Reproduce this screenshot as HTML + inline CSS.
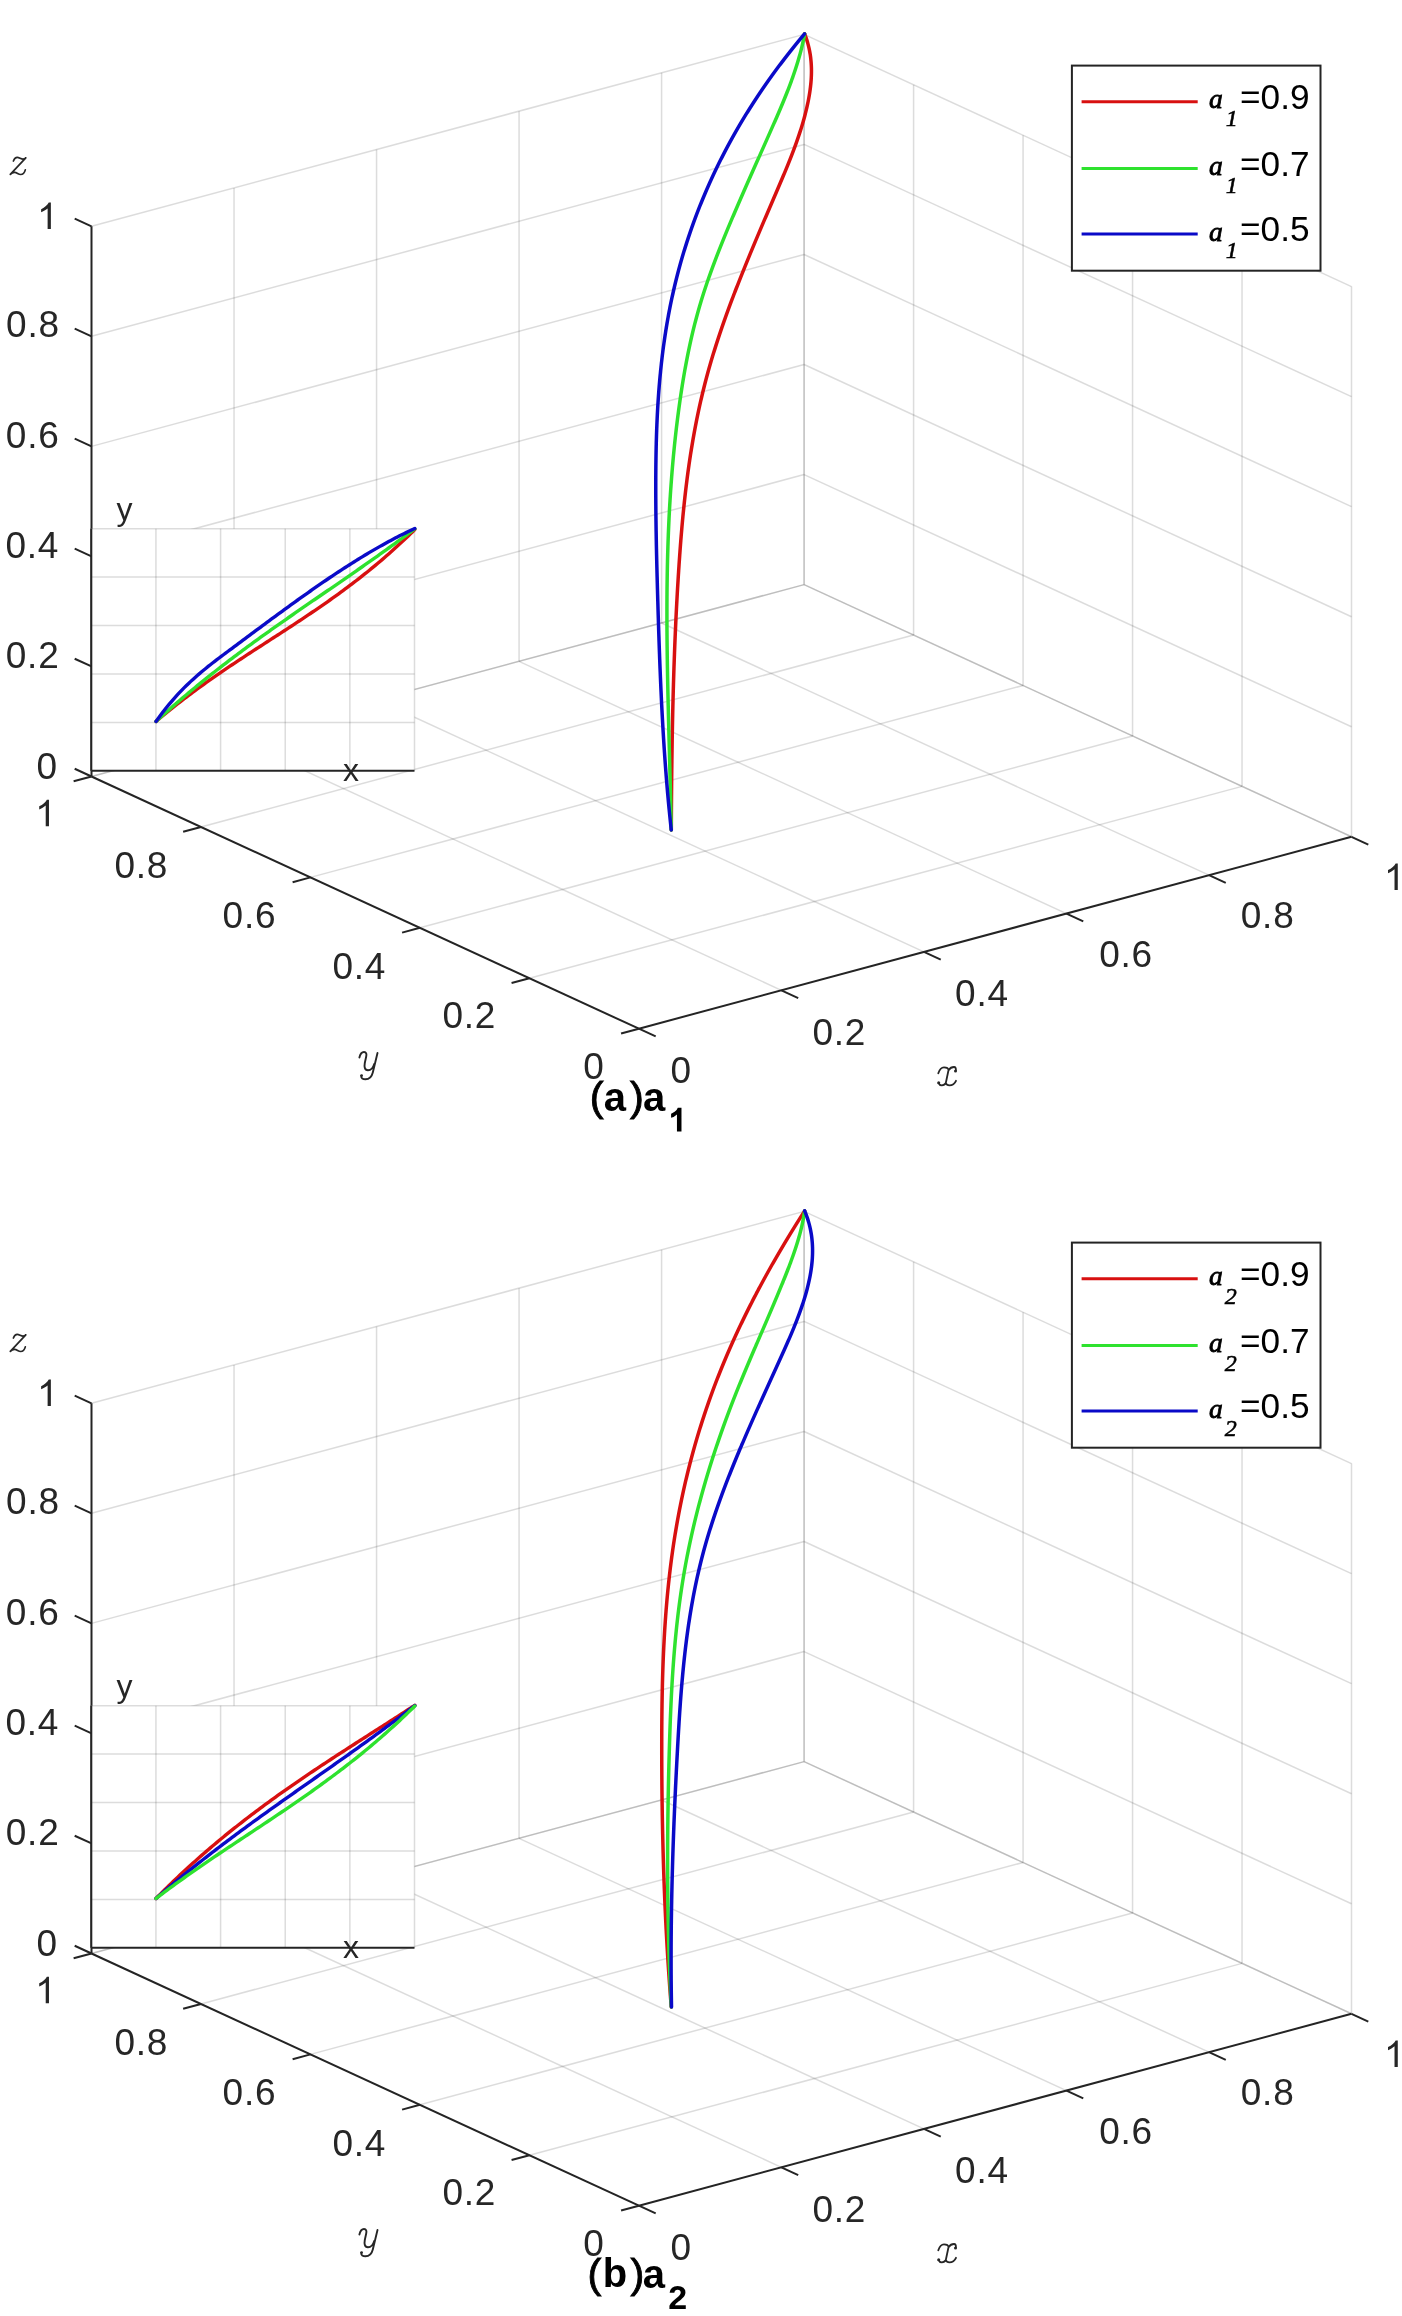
<!DOCTYPE html>
<html><head><meta charset="utf-8"><title>3D curves</title>
<style>html,body{margin:0;padding:0;background:#fff;}svg{display:block;will-change:transform;}</style>
</head><body>
<svg width="1402" height="2316" viewBox="0 0 1402 2316">
<rect width="1402" height="2316" fill="#fff"/>
<g><line x1="781.42" y1="990.32" x2="234.02" y2="738.12" stroke="#262626" stroke-width="1.5" stroke-opacity="0.16"/><line x1="923.94" y1="951.94" x2="376.54" y2="699.74" stroke="#262626" stroke-width="1.5" stroke-opacity="0.16"/><line x1="1066.46" y1="913.56" x2="519.06" y2="661.36" stroke="#262626" stroke-width="1.5" stroke-opacity="0.16"/><line x1="1208.98" y1="875.18" x2="661.58" y2="622.98" stroke="#262626" stroke-width="1.5" stroke-opacity="0.16"/><line x1="1351.5" y1="836.8" x2="804.1" y2="584.6" stroke="#262626" stroke-width="1.5" stroke-opacity="0.16"/><line x1="529.42" y1="978.26" x2="1242.02" y2="786.36" stroke="#262626" stroke-width="1.5" stroke-opacity="0.16"/><line x1="419.94" y1="927.82" x2="1132.54" y2="735.92" stroke="#262626" stroke-width="1.5" stroke-opacity="0.16"/><line x1="310.46" y1="877.38" x2="1023.06" y2="685.48" stroke="#262626" stroke-width="1.5" stroke-opacity="0.16"/><line x1="200.98" y1="826.94" x2="913.58" y2="635.04" stroke="#262626" stroke-width="1.5" stroke-opacity="0.16"/><line x1="91.5" y1="776.5" x2="804.1" y2="584.6" stroke="#262626" stroke-width="1.5" stroke-opacity="0.16"/><line x1="234.02" y1="738.12" x2="234.02" y2="187.92" stroke="#262626" stroke-width="1.5" stroke-opacity="0.16"/><line x1="376.54" y1="699.74" x2="376.54" y2="149.54" stroke="#262626" stroke-width="1.5" stroke-opacity="0.16"/><line x1="519.06" y1="661.36" x2="519.06" y2="111.16" stroke="#262626" stroke-width="1.5" stroke-opacity="0.16"/><line x1="661.58" y1="622.98" x2="661.58" y2="72.78" stroke="#262626" stroke-width="1.5" stroke-opacity="0.16"/><line x1="804.1" y1="584.6" x2="804.1" y2="34.4" stroke="#262626" stroke-width="1.5" stroke-opacity="0.16"/><line x1="91.5" y1="776.5" x2="804.1" y2="584.6" stroke="#262626" stroke-width="1.5" stroke-opacity="0.16"/><line x1="91.5" y1="666.46" x2="804.1" y2="474.56" stroke="#262626" stroke-width="1.5" stroke-opacity="0.16"/><line x1="91.5" y1="556.42" x2="804.1" y2="364.52" stroke="#262626" stroke-width="1.5" stroke-opacity="0.16"/><line x1="91.5" y1="446.38" x2="804.1" y2="254.48" stroke="#262626" stroke-width="1.5" stroke-opacity="0.16"/><line x1="91.5" y1="336.34" x2="804.1" y2="144.44" stroke="#262626" stroke-width="1.5" stroke-opacity="0.16"/><line x1="91.5" y1="226.3" x2="804.1" y2="34.4" stroke="#262626" stroke-width="1.5" stroke-opacity="0.16"/><line x1="1351.5" y1="836.8" x2="1351.5" y2="286.6" stroke="#262626" stroke-width="1.5" stroke-opacity="0.16"/><line x1="1242.02" y1="786.36" x2="1242.02" y2="236.16" stroke="#262626" stroke-width="1.5" stroke-opacity="0.16"/><line x1="1132.54" y1="735.92" x2="1132.54" y2="185.72" stroke="#262626" stroke-width="1.5" stroke-opacity="0.16"/><line x1="1023.06" y1="685.48" x2="1023.06" y2="135.28" stroke="#262626" stroke-width="1.5" stroke-opacity="0.16"/><line x1="913.58" y1="635.04" x2="913.58" y2="84.84" stroke="#262626" stroke-width="1.5" stroke-opacity="0.16"/><line x1="804.1" y1="584.6" x2="804.1" y2="34.4" stroke="#262626" stroke-width="1.5" stroke-opacity="0.16"/><line x1="1351.5" y1="836.8" x2="804.1" y2="584.6" stroke="#262626" stroke-width="1.5" stroke-opacity="0.16"/><line x1="1351.5" y1="726.76" x2="804.1" y2="474.56" stroke="#262626" stroke-width="1.5" stroke-opacity="0.16"/><line x1="1351.5" y1="616.72" x2="804.1" y2="364.52" stroke="#262626" stroke-width="1.5" stroke-opacity="0.16"/><line x1="1351.5" y1="506.68" x2="804.1" y2="254.48" stroke="#262626" stroke-width="1.5" stroke-opacity="0.16"/><line x1="1351.5" y1="396.64" x2="804.1" y2="144.44" stroke="#262626" stroke-width="1.5" stroke-opacity="0.16"/><line x1="1351.5" y1="286.6" x2="804.1" y2="34.4" stroke="#262626" stroke-width="1.5" stroke-opacity="0.16"/></g>
<g stroke-linecap="butt"><line x1="638.9" y1="1028.7" x2="1351.5" y2="836.8" stroke="#242424" stroke-width="2.0"/><line x1="638.9" y1="1028.7" x2="91.5" y2="776.5" stroke="#242424" stroke-width="2.0"/><line x1="91.5" y1="776.5" x2="91.5" y2="226.3" stroke="#242424" stroke-width="2.0"/><line x1="638.9" y1="1028.7" x2="655.7" y2="1036.44" stroke="#242424" stroke-width="2.0"/><line x1="638.9" y1="1028.7" x2="621.04" y2="1033.51" stroke="#242424" stroke-width="2.0"/><line x1="91.5" y1="776.5" x2="74.7" y2="768.76" stroke="#242424" stroke-width="2.0"/><line x1="781.42" y1="990.32" x2="798.22" y2="998.06" stroke="#242424" stroke-width="2.0"/><line x1="529.42" y1="978.26" x2="511.56" y2="983.07" stroke="#242424" stroke-width="2.0"/><line x1="91.5" y1="666.46" x2="74.7" y2="658.72" stroke="#242424" stroke-width="2.0"/><line x1="923.94" y1="951.94" x2="940.74" y2="959.68" stroke="#242424" stroke-width="2.0"/><line x1="419.94" y1="927.82" x2="402.08" y2="932.63" stroke="#242424" stroke-width="2.0"/><line x1="91.5" y1="556.42" x2="74.7" y2="548.68" stroke="#242424" stroke-width="2.0"/><line x1="1066.46" y1="913.56" x2="1083.26" y2="921.3" stroke="#242424" stroke-width="2.0"/><line x1="310.46" y1="877.38" x2="292.6" y2="882.19" stroke="#242424" stroke-width="2.0"/><line x1="91.5" y1="446.38" x2="74.7" y2="438.64" stroke="#242424" stroke-width="2.0"/><line x1="1208.98" y1="875.18" x2="1225.78" y2="882.92" stroke="#242424" stroke-width="2.0"/><line x1="200.98" y1="826.94" x2="183.12" y2="831.75" stroke="#242424" stroke-width="2.0"/><line x1="91.5" y1="336.34" x2="74.7" y2="328.6" stroke="#242424" stroke-width="2.0"/><line x1="1351.5" y1="836.8" x2="1368.3" y2="844.54" stroke="#242424" stroke-width="2.0"/><line x1="91.5" y1="776.5" x2="73.64" y2="781.31" stroke="#242424" stroke-width="2.0"/><line x1="91.5" y1="226.3" x2="74.7" y2="218.56" stroke="#242424" stroke-width="2.0"/></g>
<g><path transform="translate(37.09 229.1) scale(0.018066 -0.018066)" d="M763 0L583 0L583 1147Q518 1085 412 1023Q306 961 223 930L223 1104Q374 1175 487 1276Q600 1377 646 1472L763 1472Z" fill="#262626"/><text x="6.11" y="336.59" style="font-family:'Liberation Sans';font-size:37px;letter-spacing:0.75px;" fill="#262626">0.8</text><text x="5.87" y="447.84" style="font-family:'Liberation Sans';font-size:37px;letter-spacing:0.75px;" fill="#262626">0.6</text><text x="5.4" y="558.24" style="font-family:'Liberation Sans';font-size:37px;letter-spacing:0.75px;" fill="#262626">0.4</text><text x="5.79" y="667.64" style="font-family:'Liberation Sans';font-size:37px;letter-spacing:0.75px;" fill="#262626">0.2</text><text x="36.51" y="778.94" style="font-family:'Liberation Sans';font-size:37px;letter-spacing:0.75px;" fill="#262626">0</text><path transform="translate(35.19 826.3) scale(0.018066 -0.018066)" d="M763 0L583 0L583 1147Q518 1085 412 1023Q306 961 223 930L223 1104Q374 1175 487 1276Q600 1377 646 1472L763 1472Z" fill="#262626"/><text x="114.51" y="878.14" style="font-family:'Liberation Sans';font-size:37px;letter-spacing:0.75px;" fill="#262626">0.8</text><text x="222.62" y="927.94" style="font-family:'Liberation Sans';font-size:37px;letter-spacing:0.75px;" fill="#262626">0.6</text><text x="332.4" y="978.69" style="font-family:'Liberation Sans';font-size:37px;letter-spacing:0.75px;" fill="#262626">0.4</text><text x="442.39" y="1028.44" style="font-family:'Liberation Sans';font-size:37px;letter-spacing:0.75px;" fill="#262626">0.2</text><text x="583.26" y="1078.94" style="font-family:'Liberation Sans';font-size:37px;letter-spacing:0.75px;" fill="#262626">0</text><text x="670.46" y="1082.94" style="font-family:'Liberation Sans';font-size:37px;letter-spacing:0.75px;" fill="#262626">0</text><text x="812.44" y="1044.64" style="font-family:'Liberation Sans';font-size:37px;letter-spacing:0.75px;" fill="#262626">0.2</text><text x="955.1" y="1005.84" style="font-family:'Liberation Sans';font-size:37px;letter-spacing:0.75px;" fill="#262626">0.4</text><text x="1099.17" y="966.64" style="font-family:'Liberation Sans';font-size:37px;letter-spacing:0.75px;" fill="#262626">0.6</text><text x="1240.81" y="927.79" style="font-family:'Liberation Sans';font-size:37px;letter-spacing:0.75px;" fill="#262626">0.8</text><path transform="translate(1383.99 890.05) scale(0.018066 -0.018066)" d="M763 0L583 0L583 1147Q518 1085 412 1023Q306 961 223 930L223 1104Q374 1175 487 1276Q600 1377 646 1472L763 1472Z" fill="#262626"/><g transform="translate(0 0)" fill="none" stroke="#262626" stroke-linecap="round" stroke-linejoin="round"><path stroke-width="1.7" d="M13.4,161 C14.2,159 15.6,157.4 17.2,157.4 C19.2,157.4 21,159.1 23,159.1 C24.1,159.1 25.1,158.5 25.8,157.8 M25.8,157.8 L10.3,174.4 M10.3,174.4 C11.5,173 12.8,172.4 14.6,172.4 C17,172.4 18.2,174.5 20.6,174.5 C22.6,174.5 24.6,172.6 25.3,169.9"/></g><g transform="translate(0 0)" fill="none" stroke="#262626" stroke-linecap="round" stroke-linejoin="round"><path stroke-width="1.9" d="M359.4,1057.5 C360.2,1054 361.8,1052 364,1052 C366.3,1052 366.8,1054 366.2,1056.5 L364.8,1063 C364.3,1066 364.2,1070.3 368,1070.3 C371,1070.3 373.4,1067 374.2,1064 M377.5,1053 L372.8,1072.5 C371.8,1076.5 369,1079.3 365.5,1079.3 C362.8,1079.3 361,1078.2 361.3,1076"/><circle cx="361.6" cy="1075.6" r="1.4" fill="#262626" stroke="none"/></g><g transform="translate(0 0)" fill="none" stroke="#262626" stroke-linecap="round" stroke-linejoin="round"><path stroke-width="1.8" d="M938.3,1073.3 C939.5,1069.5 941.5,1067.3 944,1067.3 C946.5,1067.3 948.3,1068.5 948.5,1070 M948.6,1069.8 L945.8,1083 M938.6,1083.2 C939.2,1084.7 940.3,1085.3 941.8,1085.3 C944,1085.3 945.3,1084 945.8,1083 M948.8,1070 C950,1068 952,1067 954,1067 C955.5,1067 956.2,1068.5 955.8,1070.5 M945.8,1083 C946.3,1084.5 947.5,1085.3 949.5,1085.3 C952.5,1085.3 955,1083 956,1080.8"/><circle cx="938.7" cy="1082.8" r="1.5" fill="#262626" stroke="none"/><circle cx="955.5" cy="1070.9" r="1.5" fill="#262626" stroke="none"/></g></g>
<g><path d="M804.65 33.9L805.41 35.89L806.11 37.89L806.78 39.88L807.39 41.88L807.95 43.87L808.47 45.87L808.95 47.86L809.38 49.86L809.76 51.85L810.11 53.85L810.41 55.84L810.67 57.84L810.89 59.83L811.08 61.83L811.22 63.82L811.33 65.82L811.41 67.81L811.45 69.81L811.45 71.8L811.42 73.8L811.36 75.79L811.27 77.79L811.15 79.78L811 81.78L810.82 83.77L810.61 85.77L810.38 87.76L810.12 89.76L809.84 91.75L809.53 93.75L809.2 95.74L808.85 97.74L808.48 99.73L808.09 101.73L807.68 103.72L807.24 105.72L806.8 107.71L806.33 109.71L805.84 111.7L805.34 113.7L804.82 115.69L804.28 117.69L803.73 119.68L803.16 121.68L802.58 123.67L801.98 125.67L801.37 127.66L800.74 129.66L800.1 131.65L799.45 133.65L798.78 135.64L798.1 137.64L797.41 139.63L796.71 141.63L796 143.62L795.27 145.62L794.54 147.61L793.8 149.61L793.04 151.6L792.28 153.6L791.51 155.59L790.73 157.59L789.94 159.58L789.15 161.58L788.35 163.57L787.54 165.57L786.72 167.56L785.91 169.56L785.08 171.55L784.25 173.55L783.42 175.54L782.58 177.54L781.74 179.53L780.89 181.53L780.04 183.52L779.19 185.52L778.34 187.51L777.49 189.51L776.63 191.5L775.78 193.5L774.92 195.49L774.06 197.49L773.21 199.48L772.35 201.48L771.5 203.47L770.64 205.47L769.78 207.46L768.93 209.46L768.07 211.45L767.22 213.45L766.37 215.44L765.51 217.44L764.66 219.43L763.81 221.43L762.96 223.42L762.11 225.42L761.26 227.41L760.42 229.41L759.57 231.4L758.73 233.4L757.88 235.39L757.04 237.39L756.2 239.38L755.36 241.38L754.53 243.37L753.69 245.37L752.86 247.36L752.03 249.36L751.2 251.35L750.37 253.35L749.55 255.34L748.73 257.34L747.91 259.33L747.09 261.33L746.28 263.32L745.46 265.32L744.66 267.31L743.85 269.31L743.05 271.3L742.24 273.3L741.45 275.29L740.65 277.29L739.86 279.28L739.07 281.28L738.29 283.27L737.51 285.27L736.73 287.26L735.95 289.26L735.18 291.25L734.42 293.25L733.65 295.24L732.9 297.24L732.14 299.23L731.39 301.23L730.64 303.22L729.9 305.22L729.16 307.21L728.43 309.21L727.7 311.2L726.97 313.2L726.25 315.19L725.54 317.19L724.83 319.18L724.12 321.18L723.42 323.17L722.72 325.17L722.03 327.16L721.35 329.16L720.67 331.15L719.99 333.15L719.32 335.14L718.66 337.14L718 339.13L717.35 341.13L716.7 343.12L716.06 345.12L715.42 347.11L714.8 349.11L714.17 351.1L713.56 353.1L712.94 355.09L712.34 357.09L711.74 359.08L711.15 361.08L710.57 363.07L709.99 365.07L709.42 367.06L708.85 369.06L708.29 371.05L707.74 373.05L707.2 375.04L706.66 377.04L706.13 379.03L705.61 381.03L705.09 383.02L704.58 385.02L704.08 387.01L703.58 389.01L703.09 391L702.61 393L702.13 394.99L701.66 396.99L701.19 398.98L700.73 400.98L700.28 402.97L699.83 404.97L699.39 406.96L698.96 408.96L698.53 410.95L698.11 412.95L697.69 414.94L697.28 416.94L696.87 418.93L696.47 420.93L696.08 422.92L695.69 424.92L695.31 426.91L694.93 428.91L694.56 430.9L694.19 432.9L693.83 434.89L693.47 436.89L693.12 438.88L692.78 440.88L692.44 442.87L692.1 444.87L691.77 446.86L691.44 448.86L691.12 450.85L690.81 452.85L690.49 454.84L690.19 456.84L689.88 458.83L689.59 460.83L689.29 462.82L689 464.82L688.72 466.81L688.44 468.81L688.16 470.8L687.89 472.8L687.63 474.79L687.36 476.79L687.1 478.78L686.85 480.78L686.6 482.77L686.35 484.77L686.11 486.76L685.87 488.76L685.63 490.75L685.4 492.75L685.17 494.74L684.95 496.74L684.73 498.73L684.51 500.73L684.29 502.72L684.08 504.72L683.88 506.71L683.67 508.71L683.47 510.7L683.27 512.7L683.08 514.69L682.89 516.69L682.7 518.68L682.51 520.68L682.33 522.67L682.15 524.67L681.97 526.66L681.8 528.66L681.63 530.65L681.46 532.65L681.29 534.64L681.13 536.64L680.96 538.63L680.8 540.63L680.65 542.62L680.49 544.62L680.34 546.61L680.19 548.61L680.04 550.6L679.9 552.6L679.75 554.59L679.61 556.59L679.47 558.58L679.33 560.58L679.19 562.57L679.06 564.57L678.93 566.56L678.79 568.56L678.66 570.55L678.54 572.55L678.41 574.54L678.28 576.54L678.16 578.53L678.04 580.53L677.92 582.52L677.8 584.52L677.68 586.51L677.56 588.51L677.45 590.5L677.33 592.5L677.22 594.49L677.11 596.49L677 598.48L676.89 600.48L676.78 602.47L676.68 604.47L676.57 606.46L676.47 608.46L676.37 610.45L676.27 612.45L676.17 614.44L676.07 616.44L675.97 618.43L675.88 620.43L675.78 622.42L675.69 624.42L675.6 626.41L675.51 628.41L675.42 630.4L675.33 632.4L675.25 634.39L675.16 636.39L675.08 638.38L674.99 640.38L674.91 642.37L674.83 644.37L674.75 646.36L674.67 648.36L674.6 650.35L674.52 652.35L674.45 654.34L674.37 656.34L674.3 658.33L674.23 660.33L674.16 662.32L674.09 664.32L674.02 666.31L673.95 668.31L673.89 670.3L673.82 672.3L673.76 674.29L673.7 676.29L673.63 678.28L673.57 680.28L673.51 682.27L673.46 684.27L673.4 686.26L673.34 688.26L673.28 690.25L673.23 692.25L673.18 694.24L673.12 696.24L673.07 698.23L673.02 700.23L672.97 702.22L672.92 704.22L672.87 706.21L672.83 708.21L672.78 710.2L672.73 712.2L672.69 714.19L672.65 716.19L672.6 718.18L672.56 720.18L672.52 722.17L672.48 724.17L672.44 726.16L672.4 728.16L672.36 730.15L672.33 732.15L672.29 734.14L672.25 736.14L672.22 738.13L672.18 740.13L672.15 742.12L672.12 744.12L672.09 746.11L672.06 748.11L672.03 750.1L672 752.1L671.97 754.09L671.94 756.09L671.91 758.08L671.88 760.08L671.86 762.07L671.83 764.07L671.81 766.06L671.78 768.06L671.76 770.05L671.74 772.05L671.72 774.04L671.69 776.04L671.67 778.03L671.65 780.03L671.63 782.02L671.61 784.02L671.59 786.01L671.58 788.01L671.56 790L671.54 792L671.53 793.99L671.51 795.99L671.49 797.98L671.48 799.98L671.47 801.97L671.45 803.97L671.44 805.96L671.42 807.96L671.41 809.95L671.4 811.95L671.39 813.94L671.38 815.94L671.37 817.93L671.36 819.93L671.35 821.92L671.34 823.92L671.33 825.91L671.32 827.91L671.31 829.9" fill="none" stroke="#d81010" stroke-width="3.5" stroke-linejoin="round" stroke-linecap="round"/><path d="M804.62 33.9L804.25 35.89L803.86 37.89L803.46 39.88L803.03 41.88L802.58 43.87L802.12 45.87L801.64 47.86L801.14 49.86L800.62 51.85L800.09 53.85L799.54 55.84L798.97 57.84L798.39 59.83L797.79 61.83L797.18 63.82L796.55 65.82L795.91 67.81L795.26 69.81L794.59 71.8L793.91 73.8L793.22 75.79L792.51 77.79L791.8 79.78L791.07 81.78L790.33 83.77L789.58 85.77L788.82 87.76L788.05 89.76L787.27 91.75L786.49 93.75L785.69 95.74L784.89 97.74L784.07 99.73L783.25 101.73L782.43 103.72L781.59 105.72L780.75 107.71L779.91 109.71L779.06 111.7L778.2 113.7L777.34 115.69L776.48 117.69L775.61 119.68L774.73 121.68L773.86 123.67L772.98 125.67L772.1 127.66L771.22 129.66L770.33 131.65L769.45 133.65L768.56 135.64L767.67 137.64L766.79 139.63L765.9 141.63L765.01 143.62L764.12 145.62L763.23 147.61L762.34 149.61L761.45 151.6L760.56 153.6L759.68 155.59L758.79 157.59L757.9 159.58L757.01 161.58L756.12 163.57L755.23 165.57L754.34 167.56L753.46 169.56L752.57 171.55L751.69 173.55L750.8 175.54L749.92 177.54L749.03 179.53L748.15 181.53L747.27 183.52L746.39 185.52L745.51 187.51L744.64 189.51L743.76 191.5L742.89 193.5L742.02 195.49L741.15 197.49L740.28 199.48L739.41 201.48L738.54 203.47L737.68 205.47L736.82 207.46L735.96 209.46L735.1 211.45L734.25 213.45L733.4 215.44L732.55 217.44L731.7 219.43L730.86 221.43L730.02 223.42L729.18 225.42L728.34 227.41L727.51 229.41L726.68 231.4L725.86 233.4L725.04 235.39L724.22 237.39L723.41 239.38L722.6 241.38L721.79 243.37L720.99 245.37L720.2 247.36L719.41 249.36L718.62 251.35L717.84 253.35L717.07 255.34L716.3 257.34L715.54 259.33L714.78 261.33L714.03 263.32L713.28 265.32L712.54 267.31L711.81 269.31L711.08 271.3L710.36 273.3L709.65 275.29L708.94 277.29L708.25 279.28L707.55 281.28L706.87 283.27L706.2 285.27L705.53 287.26L704.87 289.26L704.22 291.25L703.57 293.25L702.94 295.24L702.31 297.24L701.69 299.23L701.08 301.23L700.49 303.22L699.89 305.22L699.31 307.21L698.74 309.21L698.17 311.2L697.62 313.2L697.07 315.19L696.53 317.19L696 319.18L695.47 321.18L694.96 323.17L694.45 325.17L693.95 327.16L693.46 329.16L692.97 331.15L692.49 333.15L692.02 335.14L691.56 337.14L691.1 339.13L690.65 341.13L690.21 343.12L689.78 345.12L689.35 347.11L688.93 349.11L688.51 351.1L688.1 353.1L687.7 355.09L687.3 357.09L686.91 359.08L686.52 361.08L686.15 363.07L685.77 365.07L685.4 367.06L685.04 369.06L684.69 371.05L684.33 373.05L683.99 375.04L683.65 377.04L683.31 379.03L682.98 381.03L682.65 383.02L682.33 385.02L682.02 387.01L681.7 389.01L681.4 391L681.09 393L680.79 394.99L680.5 396.99L680.21 398.98L679.92 400.98L679.64 402.97L679.36 404.97L679.08 406.96L678.81 408.96L678.54 410.95L678.28 412.95L678.02 414.94L677.76 416.94L677.5 418.93L677.25 420.93L677.01 422.92L676.77 424.92L676.53 426.91L676.29 428.91L676.06 430.9L675.83 432.9L675.61 434.89L675.38 436.89L675.17 438.88L674.95 440.88L674.74 442.87L674.53 444.87L674.33 446.86L674.13 448.86L673.93 450.85L673.74 452.85L673.54 454.84L673.36 456.84L673.17 458.83L672.99 460.83L672.81 462.82L672.64 464.82L672.46 466.81L672.3 468.81L672.13 470.8L671.97 472.8L671.81 474.79L671.65 476.79L671.5 478.78L671.35 480.78L671.2 482.77L671.05 484.77L670.91 486.76L670.77 488.76L670.64 490.75L670.5 492.75L670.37 494.74L670.25 496.74L670.12 498.73L670 500.73L669.88 502.72L669.76 504.72L669.65 506.71L669.54 508.71L669.43 510.7L669.33 512.7L669.22 514.69L669.12 516.69L669.02 518.68L668.93 520.68L668.84 522.67L668.75 524.67L668.66 526.66L668.57 528.66L668.49 530.65L668.41 532.65L668.33 534.64L668.26 536.64L668.18 538.63L668.11 540.63L668.04 542.62L667.98 544.62L667.91 546.61L667.85 548.61L667.79 550.6L667.73 552.6L667.68 554.59L667.62 556.59L667.57 558.58L667.52 560.58L667.48 562.57L667.43 564.57L667.39 566.56L667.35 568.56L667.31 570.55L667.28 572.55L667.24 574.54L667.21 576.54L667.18 578.53L667.15 580.53L667.12 582.52L667.1 584.52L667.07 586.51L667.05 588.51L667.03 590.5L667.01 592.5L667 594.49L666.98 596.49L666.97 598.48L666.96 600.48L666.95 602.47L666.94 604.47L666.94 606.46L666.93 608.46L666.93 610.45L666.93 612.45L666.93 614.44L666.93 616.44L666.93 618.43L666.94 620.43L666.95 622.42L666.95 624.42L666.96 626.41L666.97 628.41L666.98 630.4L667 632.4L667.01 634.39L667.03 636.39L667.04 638.38L667.06 640.38L667.08 642.37L667.1 644.37L667.12 646.36L667.15 648.36L667.17 650.35L667.2 652.35L667.22 654.34L667.25 656.34L667.28 658.33L667.31 660.33L667.34 662.32L667.37 664.32L667.4 666.31L667.44 668.31L667.47 670.3L667.51 672.3L667.54 674.29L667.58 676.29L667.62 678.28L667.65 680.28L667.69 682.27L667.73 684.27L667.78 686.26L667.82 688.26L667.86 690.25L667.9 692.25L667.95 694.24L667.99 696.24L668.04 698.23L668.08 700.23L668.13 702.22L668.17 704.22L668.22 706.21L668.27 708.21L668.32 710.2L668.37 712.2L668.41 714.19L668.46 716.19L668.51 718.18L668.56 720.18L668.62 722.17L668.67 724.17L668.72 726.16L668.77 728.16L668.82 730.15L668.87 732.15L668.93 734.14L668.98 736.14L669.03 738.13L669.08 740.13L669.14 742.12L669.19 744.12L669.24 746.11L669.3 748.11L669.35 750.1L669.4 752.1L669.46 754.09L669.51 756.09L669.56 758.08L669.62 760.08L669.67 762.07L669.72 764.07L669.78 766.06L669.83 768.06L669.88 770.05L669.93 772.05L669.99 774.04L670.04 776.04L670.09 778.03L670.14 780.03L670.19 782.02L670.25 784.02L670.3 786.01L670.35 788.01L670.4 790L670.45 792L670.49 793.99L670.54 795.99L670.59 797.98L670.64 799.98L670.69 801.97L670.73 803.97L670.78 805.96L670.82 807.96L670.87 809.95L670.91 811.95L670.96 813.94L671 815.94L671.04 817.93L671.08 819.93L671.12 821.92L671.16 823.92L671.2 825.91L671.24 827.91L671.28 829.9" fill="none" stroke="#2ee22e" stroke-width="3.5" stroke-linejoin="round" stroke-linecap="round"/><path d="M804.55 33.9L802.87 35.89L801.21 37.89L799.56 39.88L797.92 41.88L796.29 43.87L794.67 45.87L793.07 47.86L791.48 49.86L789.9 51.85L788.33 53.85L786.77 55.84L785.22 57.84L783.69 59.83L782.17 61.83L780.65 63.82L779.15 65.82L777.66 67.81L776.19 69.81L774.72 71.8L773.27 73.8L771.82 75.79L770.39 77.79L768.97 79.78L767.56 81.78L766.16 83.77L764.77 85.77L763.39 87.76L762.03 89.76L760.67 91.75L759.33 93.75L757.99 95.74L756.67 97.74L755.36 99.73L754.06 101.73L752.77 103.72L751.49 105.72L750.22 107.71L748.96 109.71L747.71 111.7L746.47 113.7L745.24 115.69L744.03 117.69L742.82 119.68L741.62 121.68L740.43 123.67L739.26 125.67L738.09 127.66L736.94 129.66L735.79 131.65L734.65 133.65L733.53 135.64L732.41 137.64L731.31 139.63L730.21 141.63L729.12 143.62L728.05 145.62L726.98 147.61L725.92 149.61L724.88 151.6L723.84 153.6L722.81 155.59L721.79 157.59L720.78 159.58L719.78 161.58L718.79 163.57L717.81 165.57L716.84 167.56L715.88 169.56L714.93 171.55L713.98 173.55L713.05 175.54L712.13 177.54L711.21 179.53L710.3 181.53L709.4 183.52L708.52 185.52L707.64 187.51L706.76 189.51L705.9 191.5L705.05 193.5L704.21 195.49L703.37 197.49L702.54 199.48L701.72 201.48L700.91 203.47L700.11 205.47L699.32 207.46L698.54 209.46L697.76 211.45L696.99 213.45L696.24 215.44L695.49 217.44L694.74 219.43L694.01 221.43L693.29 223.42L692.57 225.42L691.86 227.41L691.16 229.41L690.47 231.4L689.79 233.4L689.11 235.39L688.44 237.39L687.79 239.38L687.13 241.38L686.49 243.37L685.86 245.37L685.23 247.36L684.61 249.36L684 251.35L683.4 253.35L682.8 255.34L682.21 257.34L681.64 259.33L681.06 261.33L680.5 263.32L679.94 265.32L679.4 267.31L678.85 269.31L678.32 271.3L677.8 273.3L677.28 275.29L676.77 277.29L676.27 279.28L675.77 281.28L675.28 283.27L674.8 285.27L674.33 287.26L673.86 289.26L673.41 291.25L672.96 293.25L672.51 295.24L672.08 297.24L671.65 299.23L671.23 301.23L670.81 303.22L670.4 305.22L670 307.21L669.61 309.21L669.23 311.2L668.85 313.2L668.47 315.19L668.11 317.19L667.75 319.18L667.4 321.18L667.05 323.17L666.71 325.17L666.38 327.16L666.05 329.16L665.73 331.15L665.42 333.15L665.11 335.14L664.81 337.14L664.52 339.13L664.23 341.13L663.95 343.12L663.67 345.12L663.4 347.11L663.13 349.11L662.87 351.1L662.62 353.1L662.37 355.09L662.13 357.09L661.9 359.08L661.67 361.08L661.44 363.07L661.22 365.07L661.01 367.06L660.8 369.06L660.59 371.05L660.4 373.05L660.2 375.04L660.01 377.04L659.83 379.03L659.65 381.03L659.48 383.02L659.31 385.02L659.15 387.01L658.99 389.01L658.83 391L658.68 393L658.54 394.99L658.4 396.99L658.26 398.98L658.13 400.98L658 402.97L657.88 404.97L657.76 406.96L657.65 408.96L657.54 410.95L657.43 412.95L657.33 414.94L657.23 416.94L657.14 418.93L657.05 420.93L656.96 422.92L656.88 424.92L656.8 426.91L656.72 428.91L656.65 430.9L656.58 432.9L656.51 434.89L656.45 436.89L656.39 438.88L656.33 440.88L656.28 442.87L656.23 444.87L656.18 446.86L656.14 448.86L656.1 450.85L656.06 452.85L656.02 454.84L655.99 456.84L655.96 458.83L655.93 460.83L655.9 462.82L655.88 464.82L655.86 466.81L655.84 468.81L655.82 470.8L655.81 472.8L655.79 474.79L655.78 476.79L655.77 478.78L655.77 480.78L655.76 482.77L655.76 484.77L655.76 486.76L655.76 488.76L655.76 490.75L655.76 492.75L655.77 494.74L655.78 496.74L655.79 498.73L655.8 500.73L655.81 502.72L655.82 504.72L655.84 506.71L655.85 508.71L655.87 510.7L655.89 512.7L655.91 514.69L655.93 516.69L655.96 518.68L655.98 520.68L656.01 522.67L656.03 524.67L656.06 526.66L656.09 528.66L656.12 530.65L656.16 532.65L656.19 534.64L656.22 536.64L656.26 538.63L656.3 540.63L656.33 542.62L656.37 544.62L656.41 546.61L656.45 548.61L656.5 550.6L656.54 552.6L656.58 554.59L656.63 556.59L656.67 558.58L656.72 560.58L656.77 562.57L656.81 564.57L656.86 566.56L656.91 568.56L656.96 570.55L657.01 572.55L657.06 574.54L657.12 576.54L657.17 578.53L657.22 580.53L657.28 582.52L657.33 584.52L657.38 586.51L657.44 588.51L657.5 590.5L657.55 592.5L657.61 594.49L657.67 596.49L657.72 598.48L657.78 600.48L657.84 602.47L657.9 604.47L657.96 606.46L658.01 608.46L658.07 610.45L658.13 612.45L658.19 614.44L658.25 616.44L658.32 618.43L658.38 620.43L658.44 622.42L658.5 624.42L658.57 626.41L658.63 628.41L658.69 630.4L658.76 632.4L658.82 634.39L658.89 636.39L658.96 638.38L659.02 640.38L659.09 642.37L659.16 644.37L659.23 646.36L659.3 648.36L659.37 650.35L659.44 652.35L659.52 654.34L659.59 656.34L659.66 658.33L659.74 660.33L659.82 662.32L659.89 664.32L659.97 666.31L660.05 668.31L660.13 670.3L660.21 672.3L660.29 674.29L660.37 676.29L660.46 678.28L660.54 680.28L660.63 682.27L660.72 684.27L660.8 686.26L660.89 688.26L660.98 690.25L661.08 692.25L661.17 694.24L661.26 696.24L661.36 698.23L661.45 700.23L661.55 702.22L661.65 704.22L661.75 706.21L661.85 708.21L661.95 710.2L662.06 712.2L662.16 714.19L662.27 716.19L662.38 718.18L662.49 720.18L662.6 722.17L662.71 724.17L662.83 726.16L662.94 728.16L663.06 730.15L663.18 732.15L663.3 734.14L663.42 736.14L663.54 738.13L663.67 740.13L663.79 742.12L663.92 744.12L664.05 746.11L664.18 748.11L664.32 750.1L664.45 752.1L664.59 754.09L664.73 756.09L664.87 758.08L665.01 760.08L665.15 762.07L665.3 764.07L665.45 766.06L665.6 768.06L665.75 770.05L665.9 772.05L666.06 774.04L666.21 776.04L666.37 778.03L666.53 780.03L666.7 782.02L666.86 784.02L667.03 786.01L667.2 788.01L667.37 790L667.54 792L667.72 793.99L667.9 795.99L668.08 797.98L668.26 799.98L668.44 801.97L668.63 803.97L668.82 805.96L669.01 807.96L669.2 809.95L669.4 811.95L669.59 813.94L669.79 815.94L670 817.93L670.2 819.93L670.41 821.92L670.62 823.92L670.83 825.91L671.04 827.91L671.26 829.9" fill="none" stroke="#0a0ac8" stroke-width="3.5" stroke-linejoin="round" stroke-linecap="round"/></g>
<g><rect x="91.3" y="528.7" width="323.2" height="242.1" fill="#fff"/><line x1="155.94" y1="528.7" x2="155.94" y2="770.8" stroke="#262626" stroke-width="1.5" stroke-opacity="0.16"/><line x1="220.58" y1="528.7" x2="220.58" y2="770.8" stroke="#262626" stroke-width="1.5" stroke-opacity="0.16"/><line x1="285.22" y1="528.7" x2="285.22" y2="770.8" stroke="#262626" stroke-width="1.5" stroke-opacity="0.16"/><line x1="349.86" y1="528.7" x2="349.86" y2="770.8" stroke="#262626" stroke-width="1.5" stroke-opacity="0.16"/><line x1="414.5" y1="528.7" x2="414.5" y2="770.8" stroke="#262626" stroke-width="1.5" stroke-opacity="0.16"/><line x1="91.3" y1="528.7" x2="414.5" y2="528.7" stroke="#262626" stroke-width="1.5" stroke-opacity="0.16"/><line x1="91.3" y1="577.12" x2="414.5" y2="577.12" stroke="#262626" stroke-width="1.5" stroke-opacity="0.16"/><line x1="91.3" y1="625.54" x2="414.5" y2="625.54" stroke="#262626" stroke-width="1.5" stroke-opacity="0.16"/><line x1="91.3" y1="673.96" x2="414.5" y2="673.96" stroke="#262626" stroke-width="1.5" stroke-opacity="0.16"/><line x1="91.3" y1="722.38" x2="414.5" y2="722.38" stroke="#262626" stroke-width="1.5" stroke-opacity="0.16"/><path d="M156 721.49L158.17 719.64L160.35 717.81L162.52 716L164.7 714.2L166.87 712.42L169.05 710.65L171.22 708.9L173.4 707.16L175.57 705.44L177.75 703.73L179.92 702.04L182.1 700.36L184.27 698.7L186.45 697.04L188.62 695.4L190.8 693.78L192.97 692.16L195.15 690.56L197.32 688.96L199.5 687.38L201.67 685.81L203.85 684.25L206.02 682.7L208.19 681.16L210.37 679.63L212.54 678.11L214.72 676.59L216.89 675.09L219.07 673.59L221.24 672.1L223.42 670.62L225.59 669.14L227.77 667.68L229.94 666.21L232.12 664.76L234.29 663.31L236.47 661.86L238.64 660.42L240.82 658.99L242.99 657.55L245.17 656.13L247.34 654.7L249.52 653.28L251.69 651.87L253.87 650.45L256.04 649.04L258.22 647.63L260.39 646.22L262.56 644.81L264.74 643.41L266.91 642L269.09 640.6L271.26 639.19L273.44 637.78L275.61 636.38L277.79 634.97L279.96 633.56L282.14 632.15L284.31 630.74L286.49 629.32L288.66 627.9L290.84 626.48L293.01 625.06L295.19 623.63L297.36 622.2L299.54 620.76L301.71 619.32L303.89 617.87L306.06 616.42L308.24 614.96L310.41 613.5L312.58 612.03L314.76 610.55L316.93 609.07L319.11 607.58L321.28 606.08L323.46 604.57L325.63 603.06L327.81 601.53L329.98 600L332.16 598.46L334.33 596.9L336.51 595.34L338.68 593.77L340.86 592.18L343.03 590.59L345.21 588.98L347.38 587.36L349.56 585.73L351.73 584.09L353.91 582.43L356.08 580.76L358.26 579.08L360.43 577.39L362.61 575.67L364.78 573.95L366.95 572.21L369.13 570.46L371.3 568.69L373.48 566.9L375.65 565.1L377.83 563.28L380 561.44L382.18 559.59L384.35 557.72L386.53 555.83L388.7 553.92L390.88 552L393.05 550.06L395.23 548.09L397.4 546.11L399.58 544.11L401.75 542.09L403.93 540.04L406.1 537.98L408.28 535.9L410.45 533.79L412.63 531.66L414.8 529.51" fill="none" stroke="#d81010" stroke-width="3.4" stroke-linejoin="round" stroke-linecap="round"/><path d="M156 721.47L158.17 719.47L160.35 717.49L162.52 715.53L164.7 713.57L166.87 711.63L169.05 709.7L171.22 707.79L173.4 705.88L175.57 703.99L177.75 702.11L179.92 700.24L182.1 698.38L184.27 696.53L186.45 694.69L188.62 692.86L190.8 691.05L192.97 689.24L195.15 687.45L197.32 685.66L199.5 683.89L201.67 682.12L203.85 680.36L206.02 678.62L208.19 676.88L210.37 675.15L212.54 673.43L214.72 671.72L216.89 670.02L219.07 668.32L221.24 666.64L223.42 664.96L225.59 663.29L227.77 661.63L229.94 659.97L232.12 658.32L234.29 656.68L236.47 655.05L238.64 653.42L240.82 651.8L242.99 650.19L245.17 648.58L247.34 646.98L249.52 645.39L251.69 643.8L253.87 642.21L256.04 640.63L258.22 639.06L260.39 637.49L262.56 635.93L264.74 634.37L266.91 632.82L269.09 631.27L271.26 629.73L273.44 628.19L275.61 626.65L277.79 625.12L279.96 623.59L282.14 622.06L284.31 620.54L286.49 619.02L288.66 617.5L290.84 615.99L293.01 614.48L295.19 612.97L297.36 611.46L299.54 609.96L301.71 608.46L303.89 606.96L306.06 605.46L308.24 603.96L310.41 602.46L312.58 600.97L314.76 599.48L316.93 597.98L319.11 596.49L321.28 595L323.46 593.5L325.63 592.01L327.81 590.52L329.98 589.03L332.16 587.53L334.33 586.04L336.51 584.54L338.68 583.05L340.86 581.55L343.03 580.05L345.21 578.55L347.38 577.05L349.56 575.55L351.73 574.05L353.91 572.54L356.08 571.03L358.26 569.52L360.43 568L362.61 566.49L364.78 564.97L366.95 563.44L369.13 561.92L371.3 560.39L373.48 558.85L375.65 557.31L377.83 555.77L380 554.23L382.18 552.68L384.35 551.12L386.53 549.56L388.7 548L390.88 546.43L393.05 544.85L395.23 543.27L397.4 541.69L399.58 540.1L401.75 538.5L403.93 536.9L406.1 535.29L408.28 533.67L410.45 532.05L412.63 530.42L414.8 528.78" fill="none" stroke="#2ee22e" stroke-width="3.4" stroke-linejoin="round" stroke-linecap="round"/><path d="M156 721.48L158.17 718.42L160.35 715.45L162.52 712.56L164.7 709.76L166.87 707.03L169.05 704.37L171.22 701.79L173.4 699.28L175.57 696.83L177.75 694.45L179.92 692.13L182.1 689.87L184.27 687.67L186.45 685.52L188.62 683.43L190.8 681.38L192.97 679.38L195.15 677.42L197.32 675.5L199.5 673.62L201.67 671.78L203.85 669.97L206.02 668.19L208.19 666.44L210.37 664.71L212.54 663.01L214.72 661.32L216.89 659.66L219.07 658.01L221.24 656.37L223.42 654.74L225.59 653.12L227.77 651.5L229.94 649.88L232.12 648.27L234.29 646.65L236.47 645.03L238.64 643.41L240.82 641.8L242.99 640.18L245.17 638.56L247.34 636.94L249.52 635.33L251.69 633.71L253.87 632.1L256.04 630.48L258.22 628.87L260.39 627.26L262.56 625.65L264.74 624.04L266.91 622.43L269.09 620.83L271.26 619.23L273.44 617.63L275.61 616.03L277.79 614.44L279.96 612.85L282.14 611.26L284.31 609.68L286.49 608.1L288.66 606.52L290.84 604.95L293.01 603.38L295.19 601.82L297.36 600.25L299.54 598.7L301.71 597.15L303.89 595.6L306.06 594.06L308.24 592.53L310.41 591L312.58 589.48L314.76 587.96L316.93 586.45L319.11 584.95L321.28 583.45L323.46 581.96L325.63 580.48L327.81 579L329.98 577.53L332.16 576.07L334.33 574.62L336.51 573.18L338.68 571.74L340.86 570.32L343.03 568.9L345.21 567.49L347.38 566.09L349.56 564.7L351.73 563.32L353.91 561.95L356.08 560.59L358.26 559.24L360.43 557.91L362.61 556.58L364.78 555.26L366.95 553.96L369.13 552.66L371.3 551.38L373.48 550.11L375.65 548.85L377.83 547.6L380 546.37L382.18 545.15L384.35 543.94L386.53 542.74L388.7 541.56L390.88 540.39L393.05 539.24L395.23 538.1L397.4 536.97L399.58 535.86L401.75 534.76L403.93 533.68L406.1 532.61L408.28 531.56L410.45 530.52L412.63 529.5L414.8 528.5" fill="none" stroke="#0a0ac8" stroke-width="3.4" stroke-linejoin="round" stroke-linecap="round"/><line x1="91.3" y1="770.8" x2="414.5" y2="770.8" stroke="#242424" stroke-width="2.0"/><line x1="91.3" y1="528.7" x2="91.3" y2="770.8" stroke="#242424" stroke-width="2.0"/><text x="116.39" y="519.78" style="font-family:'Liberation Sans';font-size:32px;" fill="#262626">y</text><text x="343.04" y="781.1" style="font-family:'Liberation Sans';font-size:32px;" fill="#262626">x</text></g>
<g><rect x="1071.9" y="65.6" width="248.6" height="205.1" fill="#fff" stroke="#242424" stroke-width="2"/><line x1="1081.6" y1="101.8" x2="1197.7" y2="101.8" stroke="#d81010" stroke-width="3"/><text x="1208.93" y="108.43" style="font-family:'Liberation Serif';font-size:27.5px;font-style:italic;stroke:#000;stroke-width:0.8px;" fill="#000">a</text><text x="1225.86" y="125.72" style="font-family:'Liberation Serif';font-size:24px;font-style:italic;stroke:#000;stroke-width:0.6px;" fill="#000">1</text><text x="1239.9" y="109.1" style="font-family:'Liberation Sans';font-size:35.2px;letter-spacing:0.1px;" fill="#000">=0.9</text><line x1="1081.6" y1="168.6" x2="1197.7" y2="168.6" stroke="#2ee22e" stroke-width="3"/><text x="1208.93" y="175.23" style="font-family:'Liberation Serif';font-size:27.5px;font-style:italic;stroke:#000;stroke-width:0.8px;" fill="#000">a</text><text x="1225.86" y="192.52" style="font-family:'Liberation Serif';font-size:24px;font-style:italic;stroke:#000;stroke-width:0.6px;" fill="#000">1</text><text x="1239.9" y="175.9" style="font-family:'Liberation Sans';font-size:35.2px;letter-spacing:0.1px;" fill="#000">=0.7</text><line x1="1081.6" y1="234.1" x2="1197.7" y2="234.1" stroke="#0a0ac8" stroke-width="3"/><text x="1208.93" y="240.73" style="font-family:'Liberation Serif';font-size:27.5px;font-style:italic;stroke:#000;stroke-width:0.8px;" fill="#000">a</text><text x="1225.86" y="258.02" style="font-family:'Liberation Serif';font-size:24px;font-style:italic;stroke:#000;stroke-width:0.6px;" fill="#000">1</text><text x="1239.9" y="241.4" style="font-family:'Liberation Sans';font-size:35.2px;letter-spacing:0.1px;" fill="#000">=0.5</text></g>
<text x="589.72" y="1110.99" style="font-family:'Liberation Sans';font-size:41.5px;stroke:#000;stroke-width:0.9px;" fill="#000">(</text>
<text x="603.86" y="1110.57" style="font-family:'Liberation Sans';font-size:40px;font-weight:bold;" fill="#000">a</text>
<text x="630.06" y="1110.99" style="font-family:'Liberation Sans';font-size:41.5px;stroke:#000;stroke-width:0.9px;" fill="#000">)</text>
<text x="642.96" y="1110.57" style="font-family:'Liberation Sans';font-size:40px;font-weight:bold;" fill="#000">a</text>
<path transform="translate(667.72 1131.5) scale(0.016113 -0.016113)" d="M854 0L573 0L573 1059Q419 915 210 846L210 1101Q320 1137 449 1237Q578 1338 626 1472L854 1472Z" fill="#000"/>
<g><line x1="781.42" y1="2167.32" x2="234.02" y2="1915.12" stroke="#262626" stroke-width="1.5" stroke-opacity="0.16"/><line x1="923.94" y1="2128.94" x2="376.54" y2="1876.74" stroke="#262626" stroke-width="1.5" stroke-opacity="0.16"/><line x1="1066.46" y1="2090.56" x2="519.06" y2="1838.36" stroke="#262626" stroke-width="1.5" stroke-opacity="0.16"/><line x1="1208.98" y1="2052.18" x2="661.58" y2="1799.98" stroke="#262626" stroke-width="1.5" stroke-opacity="0.16"/><line x1="1351.5" y1="2013.8" x2="804.1" y2="1761.6" stroke="#262626" stroke-width="1.5" stroke-opacity="0.16"/><line x1="529.42" y1="2155.26" x2="1242.02" y2="1963.36" stroke="#262626" stroke-width="1.5" stroke-opacity="0.16"/><line x1="419.94" y1="2104.82" x2="1132.54" y2="1912.92" stroke="#262626" stroke-width="1.5" stroke-opacity="0.16"/><line x1="310.46" y1="2054.38" x2="1023.06" y2="1862.48" stroke="#262626" stroke-width="1.5" stroke-opacity="0.16"/><line x1="200.98" y1="2003.94" x2="913.58" y2="1812.04" stroke="#262626" stroke-width="1.5" stroke-opacity="0.16"/><line x1="91.5" y1="1953.5" x2="804.1" y2="1761.6" stroke="#262626" stroke-width="1.5" stroke-opacity="0.16"/><line x1="234.02" y1="1915.12" x2="234.02" y2="1364.92" stroke="#262626" stroke-width="1.5" stroke-opacity="0.16"/><line x1="376.54" y1="1876.74" x2="376.54" y2="1326.54" stroke="#262626" stroke-width="1.5" stroke-opacity="0.16"/><line x1="519.06" y1="1838.36" x2="519.06" y2="1288.16" stroke="#262626" stroke-width="1.5" stroke-opacity="0.16"/><line x1="661.58" y1="1799.98" x2="661.58" y2="1249.78" stroke="#262626" stroke-width="1.5" stroke-opacity="0.16"/><line x1="804.1" y1="1761.6" x2="804.1" y2="1211.4" stroke="#262626" stroke-width="1.5" stroke-opacity="0.16"/><line x1="91.5" y1="1953.5" x2="804.1" y2="1761.6" stroke="#262626" stroke-width="1.5" stroke-opacity="0.16"/><line x1="91.5" y1="1843.46" x2="804.1" y2="1651.56" stroke="#262626" stroke-width="1.5" stroke-opacity="0.16"/><line x1="91.5" y1="1733.42" x2="804.1" y2="1541.52" stroke="#262626" stroke-width="1.5" stroke-opacity="0.16"/><line x1="91.5" y1="1623.38" x2="804.1" y2="1431.48" stroke="#262626" stroke-width="1.5" stroke-opacity="0.16"/><line x1="91.5" y1="1513.34" x2="804.1" y2="1321.44" stroke="#262626" stroke-width="1.5" stroke-opacity="0.16"/><line x1="91.5" y1="1403.3" x2="804.1" y2="1211.4" stroke="#262626" stroke-width="1.5" stroke-opacity="0.16"/><line x1="1351.5" y1="2013.8" x2="1351.5" y2="1463.6" stroke="#262626" stroke-width="1.5" stroke-opacity="0.16"/><line x1="1242.02" y1="1963.36" x2="1242.02" y2="1413.16" stroke="#262626" stroke-width="1.5" stroke-opacity="0.16"/><line x1="1132.54" y1="1912.92" x2="1132.54" y2="1362.72" stroke="#262626" stroke-width="1.5" stroke-opacity="0.16"/><line x1="1023.06" y1="1862.48" x2="1023.06" y2="1312.28" stroke="#262626" stroke-width="1.5" stroke-opacity="0.16"/><line x1="913.58" y1="1812.04" x2="913.58" y2="1261.84" stroke="#262626" stroke-width="1.5" stroke-opacity="0.16"/><line x1="804.1" y1="1761.6" x2="804.1" y2="1211.4" stroke="#262626" stroke-width="1.5" stroke-opacity="0.16"/><line x1="1351.5" y1="2013.8" x2="804.1" y2="1761.6" stroke="#262626" stroke-width="1.5" stroke-opacity="0.16"/><line x1="1351.5" y1="1903.76" x2="804.1" y2="1651.56" stroke="#262626" stroke-width="1.5" stroke-opacity="0.16"/><line x1="1351.5" y1="1793.72" x2="804.1" y2="1541.52" stroke="#262626" stroke-width="1.5" stroke-opacity="0.16"/><line x1="1351.5" y1="1683.68" x2="804.1" y2="1431.48" stroke="#262626" stroke-width="1.5" stroke-opacity="0.16"/><line x1="1351.5" y1="1573.64" x2="804.1" y2="1321.44" stroke="#262626" stroke-width="1.5" stroke-opacity="0.16"/><line x1="1351.5" y1="1463.6" x2="804.1" y2="1211.4" stroke="#262626" stroke-width="1.5" stroke-opacity="0.16"/></g>
<g stroke-linecap="butt"><line x1="638.9" y1="2205.7" x2="1351.5" y2="2013.8" stroke="#242424" stroke-width="2.0"/><line x1="638.9" y1="2205.7" x2="91.5" y2="1953.5" stroke="#242424" stroke-width="2.0"/><line x1="91.5" y1="1953.5" x2="91.5" y2="1403.3" stroke="#242424" stroke-width="2.0"/><line x1="638.9" y1="2205.7" x2="655.7" y2="2213.44" stroke="#242424" stroke-width="2.0"/><line x1="638.9" y1="2205.7" x2="621.04" y2="2210.51" stroke="#242424" stroke-width="2.0"/><line x1="91.5" y1="1953.5" x2="74.7" y2="1945.76" stroke="#242424" stroke-width="2.0"/><line x1="781.42" y1="2167.32" x2="798.22" y2="2175.06" stroke="#242424" stroke-width="2.0"/><line x1="529.42" y1="2155.26" x2="511.56" y2="2160.07" stroke="#242424" stroke-width="2.0"/><line x1="91.5" y1="1843.46" x2="74.7" y2="1835.72" stroke="#242424" stroke-width="2.0"/><line x1="923.94" y1="2128.94" x2="940.74" y2="2136.68" stroke="#242424" stroke-width="2.0"/><line x1="419.94" y1="2104.82" x2="402.08" y2="2109.63" stroke="#242424" stroke-width="2.0"/><line x1="91.5" y1="1733.42" x2="74.7" y2="1725.68" stroke="#242424" stroke-width="2.0"/><line x1="1066.46" y1="2090.56" x2="1083.26" y2="2098.3" stroke="#242424" stroke-width="2.0"/><line x1="310.46" y1="2054.38" x2="292.6" y2="2059.19" stroke="#242424" stroke-width="2.0"/><line x1="91.5" y1="1623.38" x2="74.7" y2="1615.64" stroke="#242424" stroke-width="2.0"/><line x1="1208.98" y1="2052.18" x2="1225.78" y2="2059.92" stroke="#242424" stroke-width="2.0"/><line x1="200.98" y1="2003.94" x2="183.12" y2="2008.75" stroke="#242424" stroke-width="2.0"/><line x1="91.5" y1="1513.34" x2="74.7" y2="1505.6" stroke="#242424" stroke-width="2.0"/><line x1="1351.5" y1="2013.8" x2="1368.3" y2="2021.54" stroke="#242424" stroke-width="2.0"/><line x1="91.5" y1="1953.5" x2="73.64" y2="1958.31" stroke="#242424" stroke-width="2.0"/><line x1="91.5" y1="1403.3" x2="74.7" y2="1395.56" stroke="#242424" stroke-width="2.0"/></g>
<g><path transform="translate(37.09 1406.1) scale(0.018066 -0.018066)" d="M763 0L583 0L583 1147Q518 1085 412 1023Q306 961 223 930L223 1104Q374 1175 487 1276Q600 1377 646 1472L763 1472Z" fill="#262626"/><text x="6.11" y="1513.59" style="font-family:'Liberation Sans';font-size:37px;letter-spacing:0.75px;" fill="#262626">0.8</text><text x="5.87" y="1624.84" style="font-family:'Liberation Sans';font-size:37px;letter-spacing:0.75px;" fill="#262626">0.6</text><text x="5.4" y="1735.24" style="font-family:'Liberation Sans';font-size:37px;letter-spacing:0.75px;" fill="#262626">0.4</text><text x="5.79" y="1844.64" style="font-family:'Liberation Sans';font-size:37px;letter-spacing:0.75px;" fill="#262626">0.2</text><text x="36.51" y="1955.94" style="font-family:'Liberation Sans';font-size:37px;letter-spacing:0.75px;" fill="#262626">0</text><path transform="translate(35.19 2003.3) scale(0.018066 -0.018066)" d="M763 0L583 0L583 1147Q518 1085 412 1023Q306 961 223 930L223 1104Q374 1175 487 1276Q600 1377 646 1472L763 1472Z" fill="#262626"/><text x="114.51" y="2055.14" style="font-family:'Liberation Sans';font-size:37px;letter-spacing:0.75px;" fill="#262626">0.8</text><text x="222.62" y="2104.94" style="font-family:'Liberation Sans';font-size:37px;letter-spacing:0.75px;" fill="#262626">0.6</text><text x="332.4" y="2155.69" style="font-family:'Liberation Sans';font-size:37px;letter-spacing:0.75px;" fill="#262626">0.4</text><text x="442.39" y="2205.44" style="font-family:'Liberation Sans';font-size:37px;letter-spacing:0.75px;" fill="#262626">0.2</text><text x="583.26" y="2255.94" style="font-family:'Liberation Sans';font-size:37px;letter-spacing:0.75px;" fill="#262626">0</text><text x="670.46" y="2259.94" style="font-family:'Liberation Sans';font-size:37px;letter-spacing:0.75px;" fill="#262626">0</text><text x="812.44" y="2221.64" style="font-family:'Liberation Sans';font-size:37px;letter-spacing:0.75px;" fill="#262626">0.2</text><text x="955.1" y="2182.84" style="font-family:'Liberation Sans';font-size:37px;letter-spacing:0.75px;" fill="#262626">0.4</text><text x="1099.17" y="2143.64" style="font-family:'Liberation Sans';font-size:37px;letter-spacing:0.75px;" fill="#262626">0.6</text><text x="1240.81" y="2104.79" style="font-family:'Liberation Sans';font-size:37px;letter-spacing:0.75px;" fill="#262626">0.8</text><path transform="translate(1383.99 2067.05) scale(0.018066 -0.018066)" d="M763 0L583 0L583 1147Q518 1085 412 1023Q306 961 223 930L223 1104Q374 1175 487 1276Q600 1377 646 1472L763 1472Z" fill="#262626"/><g transform="translate(0 1177)" fill="none" stroke="#262626" stroke-linecap="round" stroke-linejoin="round"><path stroke-width="1.7" d="M13.4,161 C14.2,159 15.6,157.4 17.2,157.4 C19.2,157.4 21,159.1 23,159.1 C24.1,159.1 25.1,158.5 25.8,157.8 M25.8,157.8 L10.3,174.4 M10.3,174.4 C11.5,173 12.8,172.4 14.6,172.4 C17,172.4 18.2,174.5 20.6,174.5 C22.6,174.5 24.6,172.6 25.3,169.9"/></g><g transform="translate(0 1177)" fill="none" stroke="#262626" stroke-linecap="round" stroke-linejoin="round"><path stroke-width="1.9" d="M359.4,1057.5 C360.2,1054 361.8,1052 364,1052 C366.3,1052 366.8,1054 366.2,1056.5 L364.8,1063 C364.3,1066 364.2,1070.3 368,1070.3 C371,1070.3 373.4,1067 374.2,1064 M377.5,1053 L372.8,1072.5 C371.8,1076.5 369,1079.3 365.5,1079.3 C362.8,1079.3 361,1078.2 361.3,1076"/><circle cx="361.6" cy="1075.6" r="1.4" fill="#262626" stroke="none"/></g><g transform="translate(0 1177)" fill="none" stroke="#262626" stroke-linecap="round" stroke-linejoin="round"><path stroke-width="1.8" d="M938.3,1073.3 C939.5,1069.5 941.5,1067.3 944,1067.3 C946.5,1067.3 948.3,1068.5 948.5,1070 M948.6,1069.8 L945.8,1083 M938.6,1083.2 C939.2,1084.7 940.3,1085.3 941.8,1085.3 C944,1085.3 945.3,1084 945.8,1083 M948.8,1070 C950,1068 952,1067 954,1067 C955.5,1067 956.2,1068.5 955.8,1070.5 M945.8,1083 C946.3,1084.5 947.5,1085.3 949.5,1085.3 C952.5,1085.3 955,1083 956,1080.8"/><circle cx="938.7" cy="1082.8" r="1.5" fill="#262626" stroke="none"/><circle cx="955.5" cy="1070.9" r="1.5" fill="#262626" stroke="none"/></g></g>
<g><path d="M804.68 1210.9L803.4 1212.89L802.12 1214.89L800.85 1216.88L799.59 1218.88L798.33 1220.87L797.07 1222.87L795.83 1224.86L794.58 1226.86L793.35 1228.85L792.12 1230.85L790.89 1232.84L789.67 1234.84L788.45 1236.83L787.25 1238.83L786.04 1240.82L784.84 1242.82L783.65 1244.81L782.47 1246.81L781.29 1248.8L780.11 1250.8L778.94 1252.79L777.78 1254.79L776.62 1256.78L775.47 1258.78L774.32 1260.77L773.18 1262.77L772.05 1264.76L770.92 1266.76L769.8 1268.75L768.68 1270.75L767.57 1272.74L766.46 1274.74L765.36 1276.73L764.27 1278.73L763.18 1280.72L762.1 1282.72L761.02 1284.71L759.96 1286.71L758.89 1288.7L757.83 1290.7L756.78 1292.69L755.74 1294.69L754.7 1296.68L753.66 1298.68L752.63 1300.67L751.61 1302.67L750.6 1304.66L749.59 1306.66L748.58 1308.65L747.59 1310.65L746.6 1312.64L745.61 1314.64L744.63 1316.63L743.66 1318.63L742.69 1320.62L741.73 1322.62L740.78 1324.61L739.83 1326.61L738.89 1328.6L737.95 1330.6L737.03 1332.59L736.1 1334.59L735.19 1336.58L734.28 1338.58L733.37 1340.57L732.48 1342.57L731.58 1344.56L730.7 1346.56L729.82 1348.55L728.95 1350.55L728.08 1352.54L727.22 1354.54L726.37 1356.53L725.53 1358.53L724.69 1360.52L723.85 1362.52L723.03 1364.51L722.2 1366.51L721.39 1368.5L720.58 1370.5L719.78 1372.49L718.99 1374.49L718.2 1376.48L717.42 1378.48L716.65 1380.47L715.88 1382.47L715.12 1384.46L714.36 1386.46L713.61 1388.45L712.87 1390.45L712.14 1392.44L711.41 1394.44L710.68 1396.43L709.97 1398.43L709.26 1400.42L708.55 1402.42L707.86 1404.41L707.17 1406.41L706.48 1408.4L705.8 1410.4L705.13 1412.39L704.46 1414.39L703.81 1416.38L703.15 1418.38L702.5 1420.37L701.86 1422.37L701.23 1424.36L700.6 1426.36L699.98 1428.35L699.36 1430.35L698.75 1432.34L698.14 1434.34L697.55 1436.33L696.95 1438.33L696.37 1440.32L695.79 1442.32L695.21 1444.31L694.64 1446.31L694.08 1448.3L693.52 1450.3L692.97 1452.29L692.43 1454.29L691.89 1456.28L691.35 1458.28L690.83 1460.27L690.3 1462.27L689.79 1464.26L689.28 1466.26L688.77 1468.25L688.27 1470.25L687.78 1472.24L687.29 1474.24L686.81 1476.23L686.33 1478.23L685.86 1480.22L685.39 1482.22L684.93 1484.21L684.48 1486.21L684.03 1488.2L683.58 1490.2L683.15 1492.19L682.71 1494.19L682.29 1496.18L681.86 1498.18L681.45 1500.17L681.04 1502.17L680.63 1504.16L680.23 1506.16L679.83 1508.15L679.44 1510.15L679.06 1512.14L678.68 1514.14L678.31 1516.13L677.94 1518.13L677.57 1520.12L677.21 1522.12L676.86 1524.11L676.51 1526.11L676.17 1528.1L675.83 1530.1L675.5 1532.09L675.17 1534.09L674.84 1536.08L674.53 1538.08L674.21 1540.07L673.9 1542.07L673.6 1544.06L673.3 1546.06L673.01 1548.05L672.72 1550.05L672.44 1552.04L672.16 1554.04L671.88 1556.03L671.61 1558.03L671.35 1560.02L671.09 1562.02L670.83 1564.01L670.58 1566.01L670.33 1568L670.09 1570L669.86 1571.99L669.62 1573.99L669.39 1575.98L669.17 1577.98L668.95 1579.97L668.73 1581.97L668.52 1583.96L668.31 1585.96L668.11 1587.95L667.91 1589.95L667.72 1591.94L667.52 1593.94L667.34 1595.93L667.15 1597.93L666.97 1599.92L666.8 1601.92L666.63 1603.91L666.46 1605.91L666.29 1607.9L666.13 1609.9L665.98 1611.89L665.82 1613.89L665.67 1615.88L665.53 1617.88L665.38 1619.87L665.25 1621.87L665.11 1623.86L664.98 1625.86L664.85 1627.85L664.72 1629.85L664.6 1631.84L664.48 1633.84L664.36 1635.83L664.25 1637.83L664.14 1639.82L664.04 1641.82L663.93 1643.81L663.83 1645.81L663.73 1647.8L663.64 1649.8L663.55 1651.79L663.46 1653.79L663.37 1655.78L663.29 1657.78L663.21 1659.77L663.13 1661.77L663.05 1663.76L662.98 1665.76L662.91 1667.75L662.84 1669.75L662.78 1671.74L662.71 1673.74L662.65 1675.73L662.59 1677.73L662.54 1679.72L662.48 1681.72L662.43 1683.71L662.38 1685.71L662.34 1687.7L662.29 1689.7L662.25 1691.69L662.21 1693.69L662.17 1695.68L662.13 1697.68L662.1 1699.67L662.07 1701.67L662.03 1703.66L662.01 1705.66L661.98 1707.65L661.95 1709.65L661.93 1711.64L661.91 1713.64L661.88 1715.63L661.87 1717.63L661.85 1719.62L661.83 1721.62L661.82 1723.61L661.8 1725.61L661.79 1727.6L661.78 1729.6L661.77 1731.59L661.76 1733.59L661.76 1735.58L661.75 1737.58L661.75 1739.57L661.74 1741.57L661.74 1743.56L661.74 1745.56L661.74 1747.55L661.74 1749.55L661.74 1751.54L661.74 1753.54L661.75 1755.53L661.75 1757.53L661.76 1759.52L661.76 1761.52L661.77 1763.51L661.78 1765.51L661.79 1767.5L661.8 1769.5L661.81 1771.49L661.82 1773.49L661.83 1775.48L661.85 1777.48L661.86 1779.47L661.88 1781.47L661.89 1783.46L661.91 1785.46L661.93 1787.45L661.95 1789.45L661.97 1791.44L661.99 1793.44L662.02 1795.43L662.04 1797.43L662.07 1799.42L662.09 1801.42L662.12 1803.41L662.15 1805.41L662.18 1807.4L662.21 1809.4L662.24 1811.39L662.27 1813.39L662.3 1815.38L662.34 1817.38L662.37 1819.37L662.41 1821.37L662.45 1823.36L662.49 1825.36L662.53 1827.35L662.57 1829.35L662.61 1831.34L662.65 1833.34L662.7 1835.33L662.74 1837.33L662.79 1839.32L662.84 1841.32L662.89 1843.31L662.94 1845.31L662.99 1847.3L663.04 1849.3L663.09 1851.29L663.15 1853.29L663.2 1855.28L663.26 1857.28L663.32 1859.27L663.38 1861.27L663.44 1863.26L663.5 1865.26L663.56 1867.25L663.63 1869.25L663.69 1871.24L663.76 1873.24L663.83 1875.23L663.9 1877.23L663.97 1879.22L664.04 1881.22L664.11 1883.21L664.19 1885.21L664.26 1887.2L664.34 1889.2L664.42 1891.19L664.5 1893.19L664.58 1895.18L664.66 1897.18L664.74 1899.17L664.82 1901.17L664.91 1903.16L665 1905.16L665.09 1907.15L665.17 1909.15L665.27 1911.14L665.36 1913.14L665.45 1915.13L665.55 1917.13L665.64 1919.12L665.74 1921.12L665.84 1923.11L665.94 1925.11L666.04 1927.1L666.14 1929.1L666.25 1931.09L666.35 1933.09L666.46 1935.08L666.57 1937.08L666.68 1939.07L666.79 1941.07L666.9 1943.06L667.01 1945.06L667.13 1947.05L667.25 1949.05L667.36 1951.04L667.48 1953.04L667.6 1955.03L667.73 1957.03L667.85 1959.02L667.98 1961.02L668.1 1963.01L668.23 1965.01L668.36 1967L668.49 1969L668.62 1970.99L668.76 1972.99L668.89 1974.98L669.03 1976.98L669.17 1978.97L669.31 1980.97L669.45 1982.96L669.59 1984.96L669.74 1986.95L669.88 1988.95L670.03 1990.94L670.18 1992.94L670.33 1994.93L670.48 1996.93L670.63 1998.92L670.79 2000.92L670.94 2002.91L671.1 2004.91L671.26 2006.9" fill="none" stroke="#d81010" stroke-width="3.5" stroke-linejoin="round" stroke-linecap="round"/><path d="M804.61 1210.9L804.32 1212.89L804.01 1214.89L803.68 1216.88L803.32 1218.88L802.93 1220.87L802.53 1222.87L802.1 1224.86L801.64 1226.86L801.17 1228.85L800.67 1230.85L800.16 1232.84L799.62 1234.84L799.07 1236.83L798.5 1238.83L797.91 1240.82L797.3 1242.82L796.67 1244.81L796.04 1246.81L795.38 1248.8L794.71 1250.8L794.03 1252.79L793.34 1254.79L792.63 1256.78L791.91 1258.78L791.18 1260.77L790.44 1262.77L789.7 1264.76L788.94 1266.76L788.17 1268.75L787.4 1270.75L786.62 1272.74L785.83 1274.74L785.04 1276.73L784.24 1278.73L783.44 1280.72L782.63 1282.72L781.82 1284.71L781 1286.71L780.18 1288.7L779.36 1290.7L778.53 1292.69L777.7 1294.69L776.87 1296.68L776.03 1298.68L775.19 1300.67L774.35 1302.67L773.51 1304.66L772.66 1306.66L771.81 1308.65L770.96 1310.65L770.11 1312.64L769.26 1314.64L768.4 1316.63L767.55 1318.63L766.69 1320.62L765.83 1322.62L764.97 1324.61L764.11 1326.61L763.25 1328.6L762.39 1330.6L761.53 1332.59L760.67 1334.59L759.81 1336.58L758.95 1338.58L758.09 1340.57L757.23 1342.57L756.37 1344.56L755.52 1346.56L754.66 1348.55L753.8 1350.55L752.95 1352.54L752.1 1354.54L751.24 1356.53L750.39 1358.53L749.55 1360.52L748.7 1362.52L747.86 1364.51L747.01 1366.51L746.18 1368.5L745.34 1370.5L744.5 1372.49L743.67 1374.49L742.85 1376.48L742.02 1378.48L741.2 1380.47L740.38 1382.47L739.57 1384.46L738.75 1386.46L737.95 1388.45L737.14 1390.45L736.34 1392.44L735.55 1394.44L734.76 1396.43L733.97 1398.43L733.19 1400.42L732.41 1402.42L731.64 1404.41L730.87 1406.41L730.11 1408.4L729.35 1410.4L728.6 1412.39L727.85 1414.39L727.11 1416.38L726.37 1418.38L725.63 1420.37L724.9 1422.37L724.18 1424.36L723.45 1426.36L722.74 1428.35L722.03 1430.35L721.32 1432.34L720.62 1434.34L719.92 1436.33L719.23 1438.33L718.54 1440.32L717.86 1442.32L717.18 1444.31L716.51 1446.31L715.84 1448.3L715.18 1450.3L714.52 1452.29L713.86 1454.29L713.21 1456.28L712.57 1458.28L711.93 1460.27L711.3 1462.27L710.67 1464.26L710.04 1466.26L709.42 1468.25L708.81 1470.25L708.2 1472.24L707.59 1474.24L706.99 1476.23L706.4 1478.23L705.81 1480.22L705.23 1482.22L704.65 1484.21L704.07 1486.21L703.5 1488.2L702.94 1490.2L702.38 1492.19L701.82 1494.19L701.27 1496.18L700.73 1498.18L700.19 1500.17L699.65 1502.17L699.13 1504.16L698.6 1506.16L698.08 1508.15L697.57 1510.15L697.06 1512.14L696.56 1514.14L696.06 1516.13L695.57 1518.13L695.08 1520.12L694.59 1522.12L694.12 1524.11L693.64 1526.11L693.18 1528.1L692.72 1530.1L692.26 1532.09L691.81 1534.09L691.36 1536.08L690.92 1538.08L690.49 1540.07L690.06 1542.07L689.63 1544.06L689.21 1546.06L688.8 1548.05L688.39 1550.05L687.98 1552.04L687.59 1554.04L687.19 1556.03L686.81 1558.03L686.42 1560.02L686.05 1562.02L685.67 1564.01L685.31 1566.01L684.95 1568L684.59 1570L684.24 1571.99L683.9 1573.99L683.56 1575.98L683.23 1577.98L682.9 1579.97L682.58 1581.97L682.26 1583.96L681.95 1585.96L681.64 1587.95L681.34 1589.95L681.05 1591.94L680.75 1593.94L680.47 1595.93L680.19 1597.93L679.91 1599.92L679.64 1601.92L679.37 1603.91L679.11 1605.91L678.85 1607.9L678.6 1609.9L678.35 1611.89L678.11 1613.89L677.87 1615.88L677.64 1617.88L677.41 1619.87L677.18 1621.87L676.96 1623.86L676.74 1625.86L676.53 1627.85L676.32 1629.85L676.12 1631.84L675.92 1633.84L675.72 1635.83L675.53 1637.83L675.34 1639.82L675.15 1641.82L674.97 1643.81L674.8 1645.81L674.62 1647.8L674.45 1649.8L674.28 1651.79L674.12 1653.79L673.96 1655.78L673.8 1657.78L673.65 1659.77L673.5 1661.77L673.35 1663.76L673.21 1665.76L673.07 1667.75L672.93 1669.75L672.8 1671.74L672.67 1673.74L672.54 1675.73L672.41 1677.73L672.29 1679.72L672.17 1681.72L672.05 1683.71L671.94 1685.71L671.82 1687.7L671.72 1689.7L671.61 1691.69L671.5 1693.69L671.4 1695.68L671.3 1697.68L671.2 1699.67L671.11 1701.67L671.01 1703.66L670.92 1705.66L670.83 1707.65L670.74 1709.65L670.66 1711.64L670.57 1713.64L670.49 1715.63L670.41 1717.63L670.33 1719.62L670.26 1721.62L670.18 1723.61L670.11 1725.61L670.04 1727.6L669.97 1729.6L669.9 1731.59L669.83 1733.59L669.76 1735.58L669.7 1737.58L669.63 1739.57L669.57 1741.57L669.51 1743.56L669.45 1745.56L669.39 1747.55L669.33 1749.55L669.27 1751.54L669.22 1753.54L669.16 1755.53L669.1 1757.53L669.05 1759.52L669 1761.52L668.94 1763.51L668.89 1765.51L668.84 1767.5L668.79 1769.5L668.74 1771.49L668.69 1773.49L668.65 1775.48L668.6 1777.48L668.56 1779.47L668.51 1781.47L668.47 1783.46L668.43 1785.46L668.39 1787.45L668.35 1789.45L668.31 1791.44L668.27 1793.44L668.23 1795.43L668.2 1797.43L668.16 1799.42L668.13 1801.42L668.09 1803.41L668.06 1805.41L668.03 1807.4L668 1809.4L667.97 1811.39L667.94 1813.39L667.92 1815.38L667.89 1817.38L667.87 1819.37L667.85 1821.37L667.82 1823.36L667.8 1825.36L667.78 1827.35L667.76 1829.35L667.75 1831.34L667.73 1833.34L667.71 1835.33L667.7 1837.33L667.69 1839.32L667.67 1841.32L667.66 1843.31L667.65 1845.31L667.64 1847.3L667.64 1849.3L667.63 1851.29L667.63 1853.29L667.62 1855.28L667.62 1857.28L667.62 1859.27L667.62 1861.27L667.62 1863.26L667.62 1865.26L667.62 1867.25L667.63 1869.25L667.64 1871.24L667.64 1873.24L667.65 1875.23L667.66 1877.23L667.67 1879.22L667.68 1881.22L667.7 1883.21L667.71 1885.21L667.73 1887.2L667.75 1889.2L667.77 1891.19L667.79 1893.19L667.81 1895.18L667.83 1897.18L667.85 1899.17L667.88 1901.17L667.91 1903.16L667.93 1905.16L667.96 1907.15L667.99 1909.15L668.03 1911.14L668.06 1913.14L668.09 1915.13L668.13 1917.13L668.17 1919.12L668.21 1921.12L668.25 1923.11L668.29 1925.11L668.33 1927.1L668.38 1929.1L668.42 1931.09L668.47 1933.09L668.52 1935.08L668.57 1937.08L668.62 1939.07L668.68 1941.07L668.73 1943.06L668.79 1945.06L668.85 1947.05L668.91 1949.05L668.97 1951.04L669.03 1953.04L669.09 1955.03L669.16 1957.03L669.22 1959.02L669.29 1961.02L669.36 1963.01L669.43 1965.01L669.51 1967L669.58 1969L669.66 1970.99L669.73 1972.99L669.81 1974.98L669.89 1976.98L669.98 1978.97L670.06 1980.97L670.15 1982.96L670.23 1984.96L670.32 1986.95L670.41 1988.95L670.5 1990.94L670.6 1992.94L670.69 1994.93L670.79 1996.93L670.89 1998.92L670.99 2000.92L671.09 2002.91L671.19 2004.91L671.3 2006.9" fill="none" stroke="#2ee22e" stroke-width="3.5" stroke-linejoin="round" stroke-linecap="round"/><path d="M804.66 1210.9L805.48 1212.89L806.24 1214.89L806.96 1216.88L807.64 1218.88L808.26 1220.87L808.84 1222.87L809.38 1224.86L809.87 1226.86L810.32 1228.85L810.72 1230.85L811.08 1232.84L811.4 1234.84L811.68 1236.83L811.92 1238.83L812.12 1240.82L812.29 1242.82L812.41 1244.81L812.5 1246.81L812.55 1248.8L812.57 1250.8L812.55 1252.79L812.5 1254.79L812.41 1256.78L812.3 1258.78L812.15 1260.77L811.97 1262.77L811.76 1264.76L811.53 1266.76L811.26 1268.75L810.97 1270.75L810.65 1272.74L810.3 1274.74L809.93 1276.73L809.53 1278.73L809.11 1280.72L808.67 1282.72L808.2 1284.71L807.72 1286.71L807.21 1288.7L806.68 1290.7L806.13 1292.69L805.57 1294.69L804.98 1296.68L804.37 1298.68L803.75 1300.67L803.11 1302.67L802.45 1304.66L801.78 1306.66L801.09 1308.65L800.39 1310.65L799.67 1312.64L798.94 1314.64L798.19 1316.63L797.43 1318.63L796.66 1320.62L795.88 1322.62L795.08 1324.61L794.28 1326.61L793.46 1328.6L792.63 1330.6L791.8 1332.59L790.96 1334.59L790.11 1336.58L789.25 1338.58L788.38 1340.57L787.51 1342.57L786.63 1344.56L785.75 1346.56L784.86 1348.55L783.97 1350.55L783.07 1352.54L782.17 1354.54L781.27 1356.53L780.36 1358.53L779.46 1360.52L778.55 1362.52L777.64 1364.51L776.73 1366.51L775.83 1368.5L774.92 1370.5L774.01 1372.49L773.1 1374.49L772.19 1376.48L771.28 1378.48L770.38 1380.47L769.47 1382.47L768.56 1384.46L767.66 1386.46L766.75 1388.45L765.84 1390.45L764.94 1392.44L764.04 1394.44L763.13 1396.43L762.23 1398.43L761.33 1400.42L760.43 1402.42L759.54 1404.41L758.64 1406.41L757.75 1408.4L756.85 1410.4L755.96 1412.39L755.07 1414.39L754.18 1416.38L753.3 1418.38L752.42 1420.37L751.53 1422.37L750.66 1424.36L749.78 1426.36L748.91 1428.35L748.03 1430.35L747.17 1432.34L746.3 1434.34L745.44 1436.33L744.58 1438.33L743.72 1440.32L742.87 1442.32L742.01 1444.31L741.17 1446.31L740.32 1448.3L739.48 1450.3L738.65 1452.29L737.81 1454.29L736.98 1456.28L736.16 1458.28L735.34 1460.27L734.52 1462.27L733.7 1464.26L732.9 1466.26L732.09 1468.25L731.29 1470.25L730.49 1472.24L729.7 1474.24L728.92 1476.23L728.13 1478.23L727.36 1480.22L726.58 1482.22L725.82 1484.21L725.06 1486.21L724.3 1488.2L723.55 1490.2L722.8 1492.19L722.06 1494.19L721.33 1496.18L720.6 1498.18L719.88 1500.17L719.16 1502.17L718.45 1504.16L717.74 1506.16L717.04 1508.15L716.35 1510.15L715.66 1512.14L714.98 1514.14L714.31 1516.13L713.64 1518.13L712.98 1520.12L712.33 1522.12L711.68 1524.11L711.05 1526.11L710.41 1528.1L709.79 1530.1L709.17 1532.09L708.56 1534.09L707.96 1536.08L707.36 1538.08L706.77 1540.07L706.19 1542.07L705.62 1544.06L705.06 1546.06L704.5 1548.05L703.95 1550.05L703.41 1552.04L702.88 1554.04L702.36 1556.03L701.84 1558.03L701.33 1560.02L700.83 1562.02L700.34 1564.01L699.85 1566.01L699.38 1568L698.9 1570L698.44 1571.99L697.98 1573.99L697.54 1575.98L697.09 1577.98L696.66 1579.97L696.23 1581.97L695.81 1583.96L695.39 1585.96L694.99 1587.95L694.59 1589.95L694.19 1591.94L693.8 1593.94L693.42 1595.93L693.05 1597.93L692.68 1599.92L692.32 1601.92L691.96 1603.91L691.61 1605.91L691.26 1607.9L690.93 1609.9L690.59 1611.89L690.27 1613.89L689.94 1615.88L689.63 1617.88L689.32 1619.87L689.01 1621.87L688.71 1623.86L688.42 1625.86L688.13 1627.85L687.85 1629.85L687.57 1631.84L687.3 1633.84L687.03 1635.83L686.76 1637.83L686.5 1639.82L686.25 1641.82L686 1643.81L685.76 1645.81L685.51 1647.8L685.28 1649.8L685.05 1651.79L684.82 1653.79L684.6 1655.78L684.38 1657.78L684.16 1659.77L683.95 1661.77L683.74 1663.76L683.54 1665.76L683.34 1667.75L683.15 1669.75L682.95 1671.74L682.76 1673.74L682.58 1675.73L682.4 1677.73L682.22 1679.72L682.04 1681.72L681.87 1683.71L681.7 1685.71L681.54 1687.7L681.37 1689.7L681.21 1691.69L681.06 1693.69L680.9 1695.68L680.75 1697.68L680.6 1699.67L680.45 1701.67L680.31 1703.66L680.17 1705.66L680.03 1707.65L679.89 1709.65L679.75 1711.64L679.62 1713.64L679.49 1715.63L679.36 1717.63L679.23 1719.62L679.1 1721.62L678.98 1723.61L678.86 1725.61L678.74 1727.6L678.62 1729.6L678.5 1731.59L678.38 1733.59L678.27 1735.58L678.15 1737.58L678.04 1739.57L677.92 1741.57L677.81 1743.56L677.7 1745.56L677.59 1747.55L677.48 1749.55L677.38 1751.54L677.27 1753.54L677.16 1755.53L677.05 1757.53L676.95 1759.52L676.84 1761.52L676.74 1763.51L676.64 1765.51L676.53 1767.5L676.43 1769.5L676.33 1771.49L676.23 1773.49L676.13 1775.48L676.03 1777.48L675.93 1779.47L675.83 1781.47L675.74 1783.46L675.64 1785.46L675.54 1787.45L675.45 1789.45L675.36 1791.44L675.26 1793.44L675.17 1795.43L675.08 1797.43L674.99 1799.42L674.9 1801.42L674.81 1803.41L674.72 1805.41L674.64 1807.4L674.55 1809.4L674.47 1811.39L674.38 1813.39L674.3 1815.38L674.22 1817.38L674.13 1819.37L674.05 1821.37L673.97 1823.36L673.89 1825.36L673.82 1827.35L673.74 1829.35L673.66 1831.34L673.59 1833.34L673.51 1835.33L673.44 1837.33L673.37 1839.32L673.3 1841.32L673.23 1843.31L673.16 1845.31L673.09 1847.3L673.02 1849.3L672.96 1851.29L672.89 1853.29L672.83 1855.28L672.76 1857.28L672.7 1859.27L672.64 1861.27L672.58 1863.26L672.52 1865.26L672.47 1867.25L672.41 1869.25L672.35 1871.24L672.3 1873.24L672.24 1875.23L672.19 1877.23L672.14 1879.22L672.09 1881.22L672.04 1883.21L671.99 1885.21L671.95 1887.2L671.9 1889.2L671.86 1891.19L671.81 1893.19L671.77 1895.18L671.73 1897.18L671.69 1899.17L671.65 1901.17L671.62 1903.16L671.58 1905.16L671.55 1907.15L671.51 1909.15L671.48 1911.14L671.45 1913.14L671.42 1915.13L671.39 1917.13L671.36 1919.12L671.34 1921.12L671.31 1923.11L671.29 1925.11L671.27 1927.1L671.24 1929.1L671.22 1931.09L671.21 1933.09L671.19 1935.08L671.17 1937.08L671.16 1939.07L671.15 1941.07L671.13 1943.06L671.12 1945.06L671.11 1947.05L671.11 1949.05L671.1 1951.04L671.1 1953.04L671.09 1955.03L671.09 1957.03L671.09 1959.02L671.09 1961.02L671.09 1963.01L671.09 1965.01L671.1 1967L671.11 1969L671.11 1970.99L671.12 1972.99L671.13 1974.98L671.15 1976.98L671.16 1978.97L671.17 1980.97L671.19 1982.96L671.21 1984.96L671.23 1986.95L671.25 1988.95L671.27 1990.94L671.3 1992.94L671.32 1994.93L671.35 1996.93L671.38 1998.92L671.41 2000.92L671.44 2002.91L671.47 2004.91L671.51 2006.9" fill="none" stroke="#0a0ac8" stroke-width="3.5" stroke-linejoin="round" stroke-linecap="round"/></g>
<g><rect x="91.3" y="1705.7" width="323.2" height="242.1" fill="#fff"/><line x1="155.94" y1="1705.7" x2="155.94" y2="1947.8" stroke="#262626" stroke-width="1.5" stroke-opacity="0.16"/><line x1="220.58" y1="1705.7" x2="220.58" y2="1947.8" stroke="#262626" stroke-width="1.5" stroke-opacity="0.16"/><line x1="285.22" y1="1705.7" x2="285.22" y2="1947.8" stroke="#262626" stroke-width="1.5" stroke-opacity="0.16"/><line x1="349.86" y1="1705.7" x2="349.86" y2="1947.8" stroke="#262626" stroke-width="1.5" stroke-opacity="0.16"/><line x1="414.5" y1="1705.7" x2="414.5" y2="1947.8" stroke="#262626" stroke-width="1.5" stroke-opacity="0.16"/><line x1="91.3" y1="1705.7" x2="414.5" y2="1705.7" stroke="#262626" stroke-width="1.5" stroke-opacity="0.16"/><line x1="91.3" y1="1754.12" x2="414.5" y2="1754.12" stroke="#262626" stroke-width="1.5" stroke-opacity="0.16"/><line x1="91.3" y1="1802.54" x2="414.5" y2="1802.54" stroke="#262626" stroke-width="1.5" stroke-opacity="0.16"/><line x1="91.3" y1="1850.96" x2="414.5" y2="1850.96" stroke="#262626" stroke-width="1.5" stroke-opacity="0.16"/><line x1="91.3" y1="1899.38" x2="414.5" y2="1899.38" stroke="#262626" stroke-width="1.5" stroke-opacity="0.16"/><path d="M156 1898.47L158.17 1896.27L160.35 1894.08L162.52 1891.91L164.7 1889.76L166.87 1887.62L169.05 1885.49L171.22 1883.38L173.4 1881.29L175.57 1879.21L177.75 1877.15L179.92 1875.1L182.1 1873.07L184.27 1871.05L186.45 1869.04L188.62 1867.05L190.8 1865.07L192.97 1863.11L195.15 1861.16L197.32 1859.22L199.5 1857.3L201.67 1855.39L203.85 1853.49L206.02 1851.6L208.19 1849.73L210.37 1847.87L212.54 1846.02L214.72 1844.19L216.89 1842.37L219.07 1840.55L221.24 1838.75L223.42 1836.96L225.59 1835.19L227.77 1833.42L229.94 1831.67L232.12 1829.92L234.29 1828.19L236.47 1826.46L238.64 1824.75L240.82 1823.05L242.99 1821.35L245.17 1819.67L247.34 1818L249.52 1816.33L251.69 1814.68L253.87 1813.03L256.04 1811.4L258.22 1809.77L260.39 1808.15L262.56 1806.54L264.74 1804.94L266.91 1803.34L269.09 1801.76L271.26 1800.18L273.44 1798.61L275.61 1797.05L277.79 1795.49L279.96 1793.94L282.14 1792.4L284.31 1790.87L286.49 1789.34L288.66 1787.82L290.84 1786.31L293.01 1784.8L295.19 1783.3L297.36 1781.8L299.54 1780.31L301.71 1778.83L303.89 1777.35L306.06 1775.87L308.24 1774.4L310.41 1772.94L312.58 1771.48L314.76 1770.03L316.93 1768.58L319.11 1767.13L321.28 1765.69L323.46 1764.25L325.63 1762.82L327.81 1761.39L329.98 1759.96L332.16 1758.54L334.33 1757.12L336.51 1755.7L338.68 1754.28L340.86 1752.87L343.03 1751.46L345.21 1750.06L347.38 1748.65L349.56 1747.25L351.73 1745.85L353.91 1744.45L356.08 1743.05L358.26 1741.66L360.43 1740.26L362.61 1738.87L364.78 1737.47L366.95 1736.08L369.13 1734.69L371.3 1733.3L373.48 1731.91L375.65 1730.52L377.83 1729.12L380 1727.73L382.18 1726.34L384.35 1724.95L386.53 1723.56L388.7 1722.16L390.88 1720.77L393.05 1719.37L395.23 1717.97L397.4 1716.57L399.58 1715.17L401.75 1713.77L403.93 1712.36L406.1 1710.96L408.28 1709.55L410.45 1708.13L412.63 1706.72L414.8 1705.3" fill="none" stroke="#d81010" stroke-width="3.4" stroke-linejoin="round" stroke-linecap="round"/><path d="M156 1898.49L158.17 1896.6L160.35 1894.71L162.52 1892.84L164.7 1890.98L166.87 1889.13L169.05 1887.29L171.22 1885.46L173.4 1883.63L175.57 1881.82L177.75 1880.01L179.92 1878.22L182.1 1876.43L184.27 1874.65L186.45 1872.88L188.62 1871.12L190.8 1869.36L192.97 1867.62L195.15 1865.88L197.32 1864.15L199.5 1862.43L201.67 1860.71L203.85 1859.01L206.02 1857.31L208.19 1855.61L210.37 1853.93L212.54 1852.25L214.72 1850.57L216.89 1848.91L219.07 1847.25L221.24 1845.59L223.42 1843.94L225.59 1842.3L227.77 1840.66L229.94 1839.03L232.12 1837.41L234.29 1835.79L236.47 1834.17L238.64 1832.56L240.82 1830.96L242.99 1829.36L245.17 1827.76L247.34 1826.17L249.52 1824.58L251.69 1823L253.87 1821.42L256.04 1819.85L258.22 1818.28L260.39 1816.71L262.56 1815.14L264.74 1813.58L266.91 1812.02L269.09 1810.47L271.26 1808.92L273.44 1807.37L275.61 1805.82L277.79 1804.28L279.96 1802.74L282.14 1801.2L284.31 1799.66L286.49 1798.12L288.66 1796.59L290.84 1795.06L293.01 1793.53L295.19 1792L297.36 1790.47L299.54 1788.94L301.71 1787.41L303.89 1785.89L306.06 1784.36L308.24 1782.84L310.41 1781.31L312.58 1779.79L314.76 1778.26L316.93 1776.74L319.11 1775.21L321.28 1773.68L323.46 1772.16L325.63 1770.63L327.81 1769.1L329.98 1767.57L332.16 1766.04L334.33 1764.51L336.51 1762.98L338.68 1761.45L340.86 1759.91L343.03 1758.37L345.21 1756.83L347.38 1755.29L349.56 1753.74L351.73 1752.2L353.91 1750.65L356.08 1749.09L358.26 1747.54L360.43 1745.98L362.61 1744.42L364.78 1742.85L366.95 1741.29L369.13 1739.71L371.3 1738.14L373.48 1736.56L375.65 1734.98L377.83 1733.39L380 1731.8L382.18 1730.2L384.35 1728.6L386.53 1726.99L388.7 1725.38L390.88 1723.76L393.05 1722.14L395.23 1720.52L397.4 1718.89L399.58 1717.25L401.75 1715.6L403.93 1713.95L406.1 1712.3L408.28 1710.64L410.45 1708.97L412.63 1707.3L414.8 1705.61" fill="none" stroke="#0a0ac8" stroke-width="3.4" stroke-linejoin="round" stroke-linecap="round"/><path d="M156 1898.51L158.17 1896.86L160.35 1895.21L162.52 1893.58L164.7 1891.96L166.87 1890.34L169.05 1888.74L171.22 1887.14L173.4 1885.55L175.57 1883.97L177.75 1882.4L179.92 1880.84L182.1 1879.28L184.27 1877.74L186.45 1876.19L188.62 1874.66L190.8 1873.13L192.97 1871.61L195.15 1870.1L197.32 1868.59L199.5 1867.08L201.67 1865.59L203.85 1864.09L206.02 1862.61L208.19 1861.12L210.37 1859.64L212.54 1858.17L214.72 1856.7L216.89 1855.23L219.07 1853.77L221.24 1852.31L223.42 1850.85L225.59 1849.4L227.77 1847.95L229.94 1846.5L232.12 1845.05L234.29 1843.61L236.47 1842.16L238.64 1840.72L240.82 1839.28L242.99 1837.84L245.17 1836.4L247.34 1834.96L249.52 1833.52L251.69 1832.08L253.87 1830.64L256.04 1829.2L258.22 1827.76L260.39 1826.32L262.56 1824.87L264.74 1823.43L266.91 1821.98L269.09 1820.53L271.26 1819.08L273.44 1817.62L275.61 1816.17L277.79 1814.71L279.96 1813.24L282.14 1811.78L284.31 1810.31L286.49 1808.83L288.66 1807.35L290.84 1805.87L293.01 1804.38L295.19 1802.89L297.36 1801.39L299.54 1799.89L301.71 1798.38L303.89 1796.86L306.06 1795.34L308.24 1793.81L310.41 1792.28L312.58 1790.74L314.76 1789.19L316.93 1787.63L319.11 1786.07L321.28 1784.5L323.46 1782.92L325.63 1781.33L327.81 1779.73L329.98 1778.13L332.16 1776.51L334.33 1774.89L336.51 1773.26L338.68 1771.61L340.86 1769.96L343.03 1768.3L345.21 1766.62L347.38 1764.94L349.56 1763.24L351.73 1761.53L353.91 1759.81L356.08 1758.08L358.26 1756.34L360.43 1754.59L362.61 1752.82L364.78 1751.04L366.95 1749.25L369.13 1747.44L371.3 1745.62L373.48 1743.79L375.65 1741.94L377.83 1740.08L380 1738.2L382.18 1736.31L384.35 1734.4L386.53 1732.48L388.7 1730.55L390.88 1728.6L393.05 1726.63L395.23 1724.64L397.4 1722.64L399.58 1720.63L401.75 1718.59L403.93 1716.54L406.1 1714.47L408.28 1712.39L410.45 1710.29L412.63 1708.16L414.8 1706.02" fill="none" stroke="#2ee22e" stroke-width="3.4" stroke-linejoin="round" stroke-linecap="round"/><line x1="91.3" y1="1947.8" x2="414.5" y2="1947.8" stroke="#242424" stroke-width="2.0"/><line x1="91.3" y1="1705.7" x2="91.3" y2="1947.8" stroke="#242424" stroke-width="2.0"/><text x="116.39" y="1696.78" style="font-family:'Liberation Sans';font-size:32px;" fill="#262626">y</text><text x="343.04" y="1958.1" style="font-family:'Liberation Sans';font-size:32px;" fill="#262626">x</text></g>
<g><rect x="1071.9" y="1242.6" width="248.6" height="205.1" fill="#fff" stroke="#242424" stroke-width="2"/><line x1="1081.6" y1="1278.8" x2="1197.7" y2="1278.8" stroke="#d81010" stroke-width="3"/><text x="1208.93" y="1285.43" style="font-family:'Liberation Serif';font-size:27.5px;font-style:italic;stroke:#000;stroke-width:0.8px;" fill="#000">a</text><text x="1224.66" y="1303.95" style="font-family:'Liberation Serif';font-size:24px;font-style:italic;stroke:#000;stroke-width:0.6px;" fill="#000">2</text><text x="1239.9" y="1286.1" style="font-family:'Liberation Sans';font-size:35.2px;letter-spacing:0.1px;" fill="#000">=0.9</text><line x1="1081.6" y1="1345.6" x2="1197.7" y2="1345.6" stroke="#2ee22e" stroke-width="3"/><text x="1208.93" y="1352.23" style="font-family:'Liberation Serif';font-size:27.5px;font-style:italic;stroke:#000;stroke-width:0.8px;" fill="#000">a</text><text x="1224.66" y="1370.75" style="font-family:'Liberation Serif';font-size:24px;font-style:italic;stroke:#000;stroke-width:0.6px;" fill="#000">2</text><text x="1239.9" y="1352.9" style="font-family:'Liberation Sans';font-size:35.2px;letter-spacing:0.1px;" fill="#000">=0.7</text><line x1="1081.6" y1="1411.1" x2="1197.7" y2="1411.1" stroke="#0a0ac8" stroke-width="3"/><text x="1208.93" y="1417.73" style="font-family:'Liberation Serif';font-size:27.5px;font-style:italic;stroke:#000;stroke-width:0.8px;" fill="#000">a</text><text x="1224.66" y="1436.25" style="font-family:'Liberation Serif';font-size:24px;font-style:italic;stroke:#000;stroke-width:0.6px;" fill="#000">2</text><text x="1239.9" y="1418.4" style="font-family:'Liberation Sans';font-size:35.2px;letter-spacing:0.1px;" fill="#000">=0.5</text></g>
<text x="587.52" y="2288.19" style="font-family:'Liberation Sans';font-size:41.5px;stroke:#000;stroke-width:0.9px;" fill="#000">(</text>
<text x="602.79" y="2287.4" style="font-family:'Liberation Sans';font-size:40px;font-weight:bold;" fill="#000">b</text>
<text x="630.56" y="2288.19" style="font-family:'Liberation Sans';font-size:41.5px;stroke:#000;stroke-width:0.9px;" fill="#000">)</text>
<text x="642.81" y="2287.57" style="font-family:'Liberation Sans';font-size:40px;font-weight:bold;" fill="#000">a</text>
<text x="668.3" y="2309" style="font-family:'Liberation Sans';font-size:34px;font-weight:bold;" fill="#000">2</text>
</svg>
</body></html>
